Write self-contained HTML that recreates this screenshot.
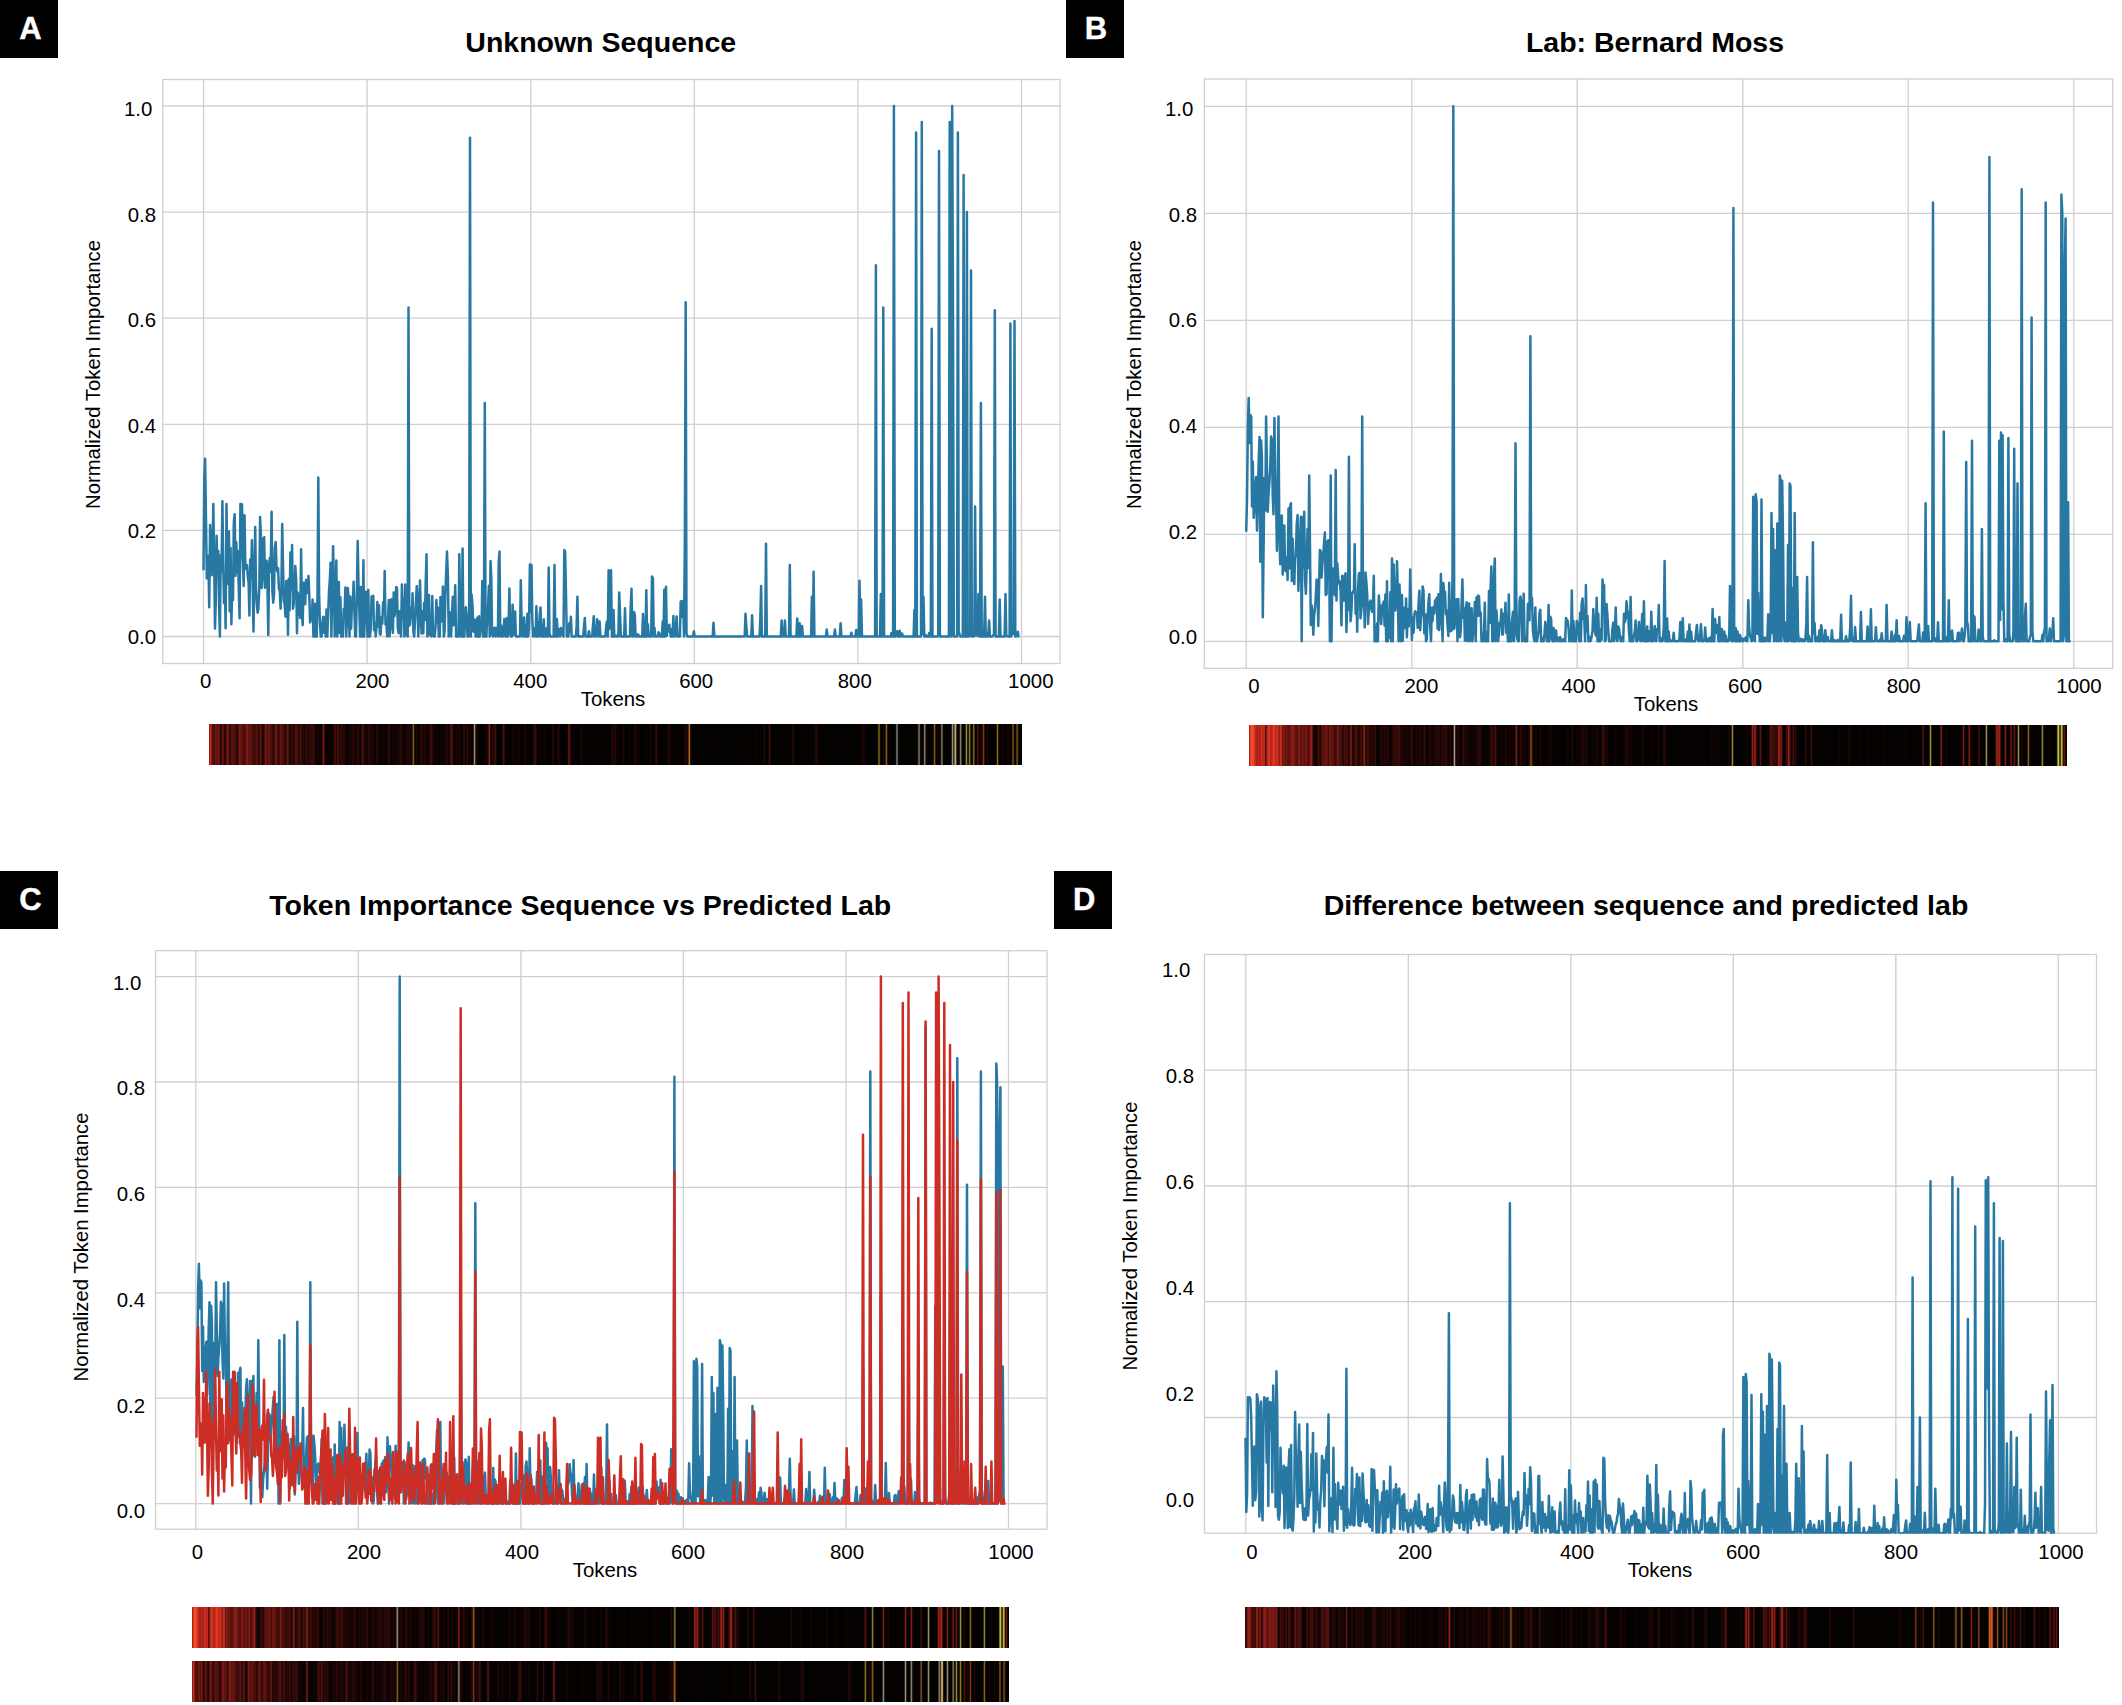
<!DOCTYPE html>
<html><head><meta charset="utf-8"><title>Token importance</title>
<style>
html,body{margin:0;padding:0;background:#fff}
body{width:2122px;height:1705px;position:relative;overflow:hidden;font-family:"Liberation Sans",Arial,Helvetica,sans-serif;color:#000}
svg{position:absolute;left:0;top:0}
svg text{font-family:"Liberation Sans",Arial,Helvetica,sans-serif;fill:#000}
.hm{position:absolute}
.bd{position:absolute;width:58px;height:58px;background:#000;color:#fff;font-weight:bold;font-size:31px;line-height:57px;text-align:center;text-indent:3px;-webkit-text-stroke:.4px #fff}
</style></head><body>
<svg width="2122" height="1705" viewBox="0 0 2122 1705">
<g fill="none" stroke="#cfcfcf" stroke-width="1.3"><path d="M203.5 79.5V663.5"/><path d="M367.1 79.5V663.5"/><path d="M530.7 79.5V663.5"/><path d="M694.3 79.5V663.5"/><path d="M857.9 79.5V663.5"/><path d="M1021.5 79.5V663.5"/><path d="M162.7 636.5H1060.0"/><path d="M162.7 530.4H1060.0"/><path d="M162.7 424.3H1060.0"/><path d="M162.7 318.2H1060.0"/><path d="M162.7 212.1H1060.0"/><path d="M162.7 106.0H1060.0"/><rect x="162.7" y="79.5" width="897.3" height="584.0"/></g>
<polyline fill="none" stroke="#2878a4" stroke-width="2.5" stroke-linejoin="round" points="203.5,570.2 204.3,477.4 205.1,458.8 206.0,519.8 206.8,578.4 207.6,570.2 208.4,555.9 209.2,607.3 210.1,525.1 210.9,539.1 211.7,575.2 212.5,562.2 213.3,503.9 214.2,565.3 215.0,628.5 215.8,600.7 216.6,535.7 217.4,572.8 218.3,551.0 219.1,603.9 219.9,636.5 220.7,555.3 221.5,571.4 222.4,501.2 223.2,562.0 224.0,603.2 224.8,573.0 225.6,628.2 226.5,503.9 227.3,574.1 228.1,583.9 228.9,531.4 229.7,611.3 230.6,547.9 231.4,624.2 232.2,583.8 233.0,600.0 233.8,522.7 234.7,514.2 235.5,575.8 236.3,542.1 237.1,572.3 237.9,551.0 238.8,589.9 239.6,618.3 240.4,503.9 241.2,558.1 242.0,504.2 242.9,562.3 243.7,585.9 244.5,515.3 245.3,564.6 246.1,569.0 247.0,565.0 247.8,576.7 248.6,582.3 249.4,615.6 250.2,559.5 251.1,577.4 251.9,540.2 252.7,586.3 253.5,631.5 254.3,579.2 255.2,527.1 256.0,588.3 256.8,603.4 257.6,612.7 258.4,608.9 259.3,587.4 260.1,517.1 260.9,535.8 261.7,588.1 262.5,577.1 263.4,538.7 264.2,537.2 265.0,587.7 265.8,572.2 266.6,560.8 267.5,588.3 268.3,634.9 269.1,564.3 269.9,557.8 270.7,572.1 271.6,511.8 272.4,590.8 273.2,602.7 274.0,594.6 274.8,548.4 275.7,542.0 276.5,567.5 277.3,571.4 278.1,568.1 278.9,588.6 279.8,590.8 280.6,608.7 281.4,591.0 282.2,523.9 283.0,564.9 283.9,600.6 284.7,604.8 285.5,616.6 286.3,580.9 287.1,580.9 288.0,634.8 288.8,579.0 289.6,610.2 290.4,552.6 291.2,589.9 292.1,545.0 292.9,608.7 293.7,604.2 294.5,587.6 295.3,566.1 296.2,580.8 297.0,633.3 297.8,592.7 298.6,597.8 299.4,611.3 300.3,618.1 301.1,549.3 301.9,611.5 302.7,625.1 303.5,582.8 304.4,597.8 305.2,604.2 306.0,580.0 306.8,588.8 307.6,592.9 308.5,576.1 309.3,596.1 310.1,622.4 310.9,615.3 311.7,620.1 312.6,599.5 313.4,636.5 314.2,636.5 315.0,603.7 315.8,636.5 316.7,636.5 317.5,596.4 318.3,477.4 319.1,593.4 319.9,623.0 320.8,636.5 321.6,636.5 322.4,623.3 323.2,616.7 324.0,632.6 324.9,617.4 325.7,636.5 326.5,609.6 327.3,636.5 328.1,616.0 329.0,591.0 329.8,580.1 330.6,562.8 331.4,636.5 332.2,590.4 333.1,546.3 333.9,584.7 334.7,636.5 335.5,601.1 336.3,560.5 337.2,636.5 338.0,599.7 338.8,582.0 339.6,633.0 340.4,597.2 341.3,636.5 342.1,636.5 342.9,636.5 343.7,608.7 344.5,616.8 345.4,587.6 346.2,636.5 347.0,618.3 347.8,587.9 348.6,599.2 349.5,636.5 350.3,596.6 351.1,628.6 351.9,604.7 352.7,607.2 353.6,581.7 354.4,612.6 355.2,636.5 356.0,636.5 356.8,595.9 357.7,541.0 358.5,584.9 359.3,609.0 360.1,636.5 360.9,586.9 361.8,636.5 362.6,636.5 363.4,560.2 364.2,636.5 365.0,599.9 365.9,591.7 366.7,613.7 367.5,636.5 368.3,590.0 369.1,636.5 370.0,636.5 370.8,628.0 371.6,596.4 372.4,609.8 373.2,595.8 374.1,630.3 374.9,622.9 375.7,636.5 376.5,626.9 377.3,602.0 378.2,626.5 379.0,605.3 379.8,634.0 380.6,634.6 381.4,617.3 382.3,623.7 383.1,602.2 383.9,613.6 384.7,571.0 385.5,624.5 386.4,624.7 387.2,636.5 388.0,618.0 388.8,600.0 389.6,636.5 390.5,620.0 391.3,599.2 392.1,622.2 392.9,632.9 393.7,592.4 394.6,616.2 395.4,608.1 396.2,587.1 397.0,587.8 397.8,628.3 398.7,633.2 399.5,611.3 400.3,622.6 401.1,636.5 401.9,584.6 402.8,618.6 403.6,599.2 404.4,636.5 405.2,584.4 406.0,635.0 406.9,622.1 407.7,636.5 408.5,307.6 409.3,625.5 410.1,624.3 411.0,607.5 411.8,617.7 412.6,593.2 413.4,632.0 414.2,636.5 415.1,620.0 415.9,602.7 416.7,586.2 417.5,597.8 418.3,636.5 419.2,609.5 420.0,580.6 420.8,618.0 421.6,633.5 422.4,611.5 423.3,633.2 424.1,602.7 424.9,620.1 425.7,582.7 426.5,554.3 427.4,636.5 428.2,603.8 429.0,595.0 429.8,635.1 430.6,631.3 431.5,636.5 432.3,596.1 433.1,635.6 433.9,636.5 434.7,636.5 435.6,626.0 436.4,600.0 437.2,622.5 438.0,607.7 438.8,636.5 439.7,636.5 440.5,596.9 441.3,607.3 442.1,621.2 442.9,586.6 443.8,636.5 444.6,631.5 445.4,593.4 446.2,572.1 447.0,551.6 447.9,576.4 448.7,636.4 449.5,611.9 450.3,625.3 451.1,636.5 452.0,614.3 452.8,596.8 453.6,625.3 454.4,623.4 455.2,585.3 456.1,636.5 456.9,636.5 457.7,636.5 458.5,636.5 459.3,554.3 460.2,614.6 461.0,636.5 461.8,636.5 462.6,548.6 463.4,636.5 464.3,636.5 465.1,615.7 465.9,607.2 466.7,618.2 467.5,636.5 468.4,636.5 469.2,608.9 470.0,137.8 470.8,636.5 471.6,594.6 472.5,605.0 473.3,631.4 474.1,632.1 474.9,619.5 475.7,636.5 476.6,636.5 477.4,617.7 478.2,636.5 479.0,616.2 479.8,636.5 480.7,629.2 481.5,630.3 482.3,581.1 483.1,636.5 483.9,636.5 484.8,403.1 485.6,636.5 486.4,636.5 487.2,617.1 488.0,608.3 488.9,585.7 489.7,636.5 490.5,561.0 491.3,578.0 492.1,634.2 493.0,636.5 493.8,631.5 494.6,627.8 495.4,636.5 496.2,628.1 497.1,635.3 497.9,636.5 498.7,563.3 499.5,551.6 500.3,636.5 501.2,625.5 502.0,636.5 502.8,636.5 503.6,629.9 504.4,618.9 505.3,636.5 506.1,636.5 506.9,617.9 507.7,636.5 508.5,630.1 509.4,588.4 510.2,634.1 511.0,636.5 511.8,636.5 512.6,604.7 513.5,634.9 514.3,621.1 515.1,611.6 515.9,636.4 516.7,636.5 517.6,636.5 518.4,636.5 519.2,636.5 520.0,636.5 520.8,580.3 521.7,626.5 522.5,636.5 523.3,633.0 524.1,617.5 524.9,636.5 525.8,636.5 526.6,636.5 527.4,613.8 528.2,636.5 529.0,626.3 529.9,564.4 530.7,612.0 531.5,564.9 532.3,619.6 533.1,636.5 534.0,628.6 534.8,636.0 535.6,636.5 536.4,606.3 537.2,636.5 538.1,622.8 538.9,636.5 539.7,615.2 540.5,607.4 541.3,636.5 542.2,636.5 543.0,636.5 543.8,619.2 544.6,636.5 545.4,636.5 546.3,628.5 547.1,636.5 547.9,636.5 548.7,567.5 549.5,633.6 550.4,636.5 551.2,636.5 552.0,636.5 552.8,636.5 553.6,636.5 554.5,564.9 555.3,636.5 556.1,636.5 556.9,619.0 557.7,636.5 558.6,628.8 559.4,630.0 560.2,636.5 561.0,627.9 561.8,633.5 562.7,634.4 563.5,636.5 564.3,550.0 565.1,551.6 565.9,588.6 566.8,636.5 567.6,629.5 568.4,636.5 569.2,623.4 570.0,632.1 570.9,616.8 571.7,636.5 572.5,636.5 573.3,636.5 574.1,636.5 575.0,636.5 575.8,636.5 576.6,626.7 577.4,596.8 578.2,636.5 579.1,636.5 579.9,636.2 580.7,636.5 581.5,636.5 582.3,636.5 583.2,636.5 584.0,626.4 584.8,617.9 585.6,636.5 586.4,636.5 587.3,636.5 588.1,636.5 588.9,631.3 589.7,636.5 590.5,636.5 591.4,636.5 592.2,636.5 593.0,625.0 593.8,616.2 594.6,636.5 595.5,635.0 596.3,636.5 597.1,619.3 597.9,623.4 598.7,636.5 599.6,621.4 600.4,636.5 601.2,636.5 602.0,636.5 602.8,636.5 603.7,636.5 604.5,636.5 605.3,636.5 606.1,627.7 606.9,621.5 607.8,636.5 608.6,570.2 609.4,629.0 610.2,619.0 611.0,570.2 611.9,636.5 612.7,636.5 613.5,609.9 614.3,636.5 615.1,635.5 616.0,636.5 616.8,636.5 617.6,635.0 618.4,636.5 619.2,592.5 620.1,615.1 620.9,636.5 621.7,636.5 622.5,636.5 623.3,636.5 624.2,636.5 625.0,608.2 625.8,636.5 626.6,636.5 627.4,636.5 628.3,636.5 629.1,636.5 629.9,636.5 630.7,606.4 631.5,588.8 632.4,636.5 633.2,636.5 634.0,611.9 634.8,615.0 635.6,636.5 636.5,636.5 637.3,636.5 638.1,634.3 638.9,636.5 639.7,636.5 640.6,636.5 641.4,636.5 642.2,636.5 643.0,614.1 643.8,636.5 644.7,636.5 645.5,636.5 646.3,590.3 647.1,636.5 647.9,624.2 648.8,636.5 649.6,636.5 650.4,636.5 651.2,636.5 652.0,576.6 652.9,578.1 653.7,636.5 654.5,627.8 655.3,636.5 656.1,636.5 657.0,636.5 657.8,636.5 658.6,632.3 659.4,633.4 660.2,636.5 661.1,636.5 661.9,636.5 662.7,621.3 663.5,636.5 664.3,589.8 665.2,636.5 666.0,586.7 666.8,635.7 667.6,625.6 668.4,631.3 669.3,624.7 670.1,632.5 670.9,636.5 671.7,629.2 672.5,636.5 673.4,616.0 674.2,636.5 675.0,636.5 675.8,631.2 676.6,616.4 677.5,636.5 678.3,636.5 679.1,636.5 679.9,636.5 680.7,601.6 681.6,601.0 682.4,616.8 683.2,601.0 684.0,636.5 684.8,546.3 685.7,302.3 686.5,633.2 687.3,636.5 688.1,636.5 688.9,636.5 689.8,636.5 690.6,636.5 691.4,636.5 692.2,636.5 693.0,636.5 693.9,631.2 694.7,636.5 695.5,636.5 696.3,636.5 697.1,636.5 698.0,636.5 698.8,636.5 699.6,636.5 700.4,636.5 701.2,636.5 702.1,636.5 702.9,636.5 703.7,636.5 704.5,636.5 705.3,636.5 706.2,636.5 707.0,636.5 707.8,636.5 708.6,636.5 709.4,636.5 710.3,636.5 711.1,636.5 711.9,636.5 712.7,636.5 713.5,622.7 714.4,636.5 715.2,636.5 716.0,636.5 716.8,636.5 717.6,636.5 718.5,636.5 719.3,636.5 720.1,636.5 720.9,636.5 721.7,636.5 722.6,636.5 723.4,636.5 724.2,636.5 725.0,636.5 725.8,636.5 726.7,636.5 727.5,636.5 728.3,636.5 729.1,636.5 729.9,636.5 730.8,636.5 731.6,636.5 732.4,636.5 733.2,636.5 734.0,636.5 734.9,636.5 735.7,636.5 736.5,636.5 737.3,636.5 738.1,636.5 739.0,636.5 739.8,636.5 740.6,636.5 741.4,636.5 742.2,636.5 743.1,636.5 743.9,636.5 744.7,636.5 745.5,613.7 746.3,625.9 747.2,636.5 748.0,636.5 748.8,636.5 749.6,636.5 750.4,636.5 751.3,636.5 752.1,615.3 752.9,636.5 753.7,636.5 754.5,636.5 755.4,636.5 756.2,636.5 757.0,636.5 757.8,636.5 758.6,636.5 759.5,636.5 760.3,620.6 761.1,586.1 761.9,636.5 762.7,636.5 763.6,636.5 764.4,636.5 765.2,636.5 766.0,543.7 766.8,636.5 767.7,636.5 768.5,636.5 769.3,636.5 770.1,636.5 770.9,636.5 771.8,636.5 772.6,636.5 773.4,636.5 774.2,636.5 775.0,636.5 775.9,636.5 776.7,636.5 777.5,636.5 778.3,636.5 779.1,636.5 780.0,636.5 780.8,636.5 781.6,620.6 782.4,636.5 783.2,628.5 784.1,636.5 784.9,620.6 785.7,636.5 786.5,636.5 787.3,636.5 788.2,636.5 789.0,636.5 789.8,564.9 790.6,636.5 791.4,636.5 792.3,636.5 793.1,636.5 793.9,636.5 794.7,636.5 795.5,636.5 796.4,636.5 797.2,618.5 798.0,636.5 798.8,636.5 799.6,623.2 800.5,636.5 801.3,636.5 802.1,625.9 802.9,636.5 803.7,636.5 804.6,636.5 805.4,636.5 806.2,636.5 807.0,636.5 807.8,636.5 808.7,636.5 809.5,636.5 810.3,636.5 811.1,636.5 811.9,596.7 812.8,636.5 813.6,571.8 814.4,636.5 815.2,636.5 816.0,636.5 816.9,636.5 817.7,636.5 818.5,636.5 819.3,636.5 820.1,636.5 821.0,636.5 821.8,636.5 822.6,636.5 823.4,636.5 824.2,636.5 825.1,636.5 825.9,636.5 826.7,629.6 827.5,636.5 828.3,636.5 829.2,636.5 830.0,636.5 830.8,636.5 831.6,636.5 832.4,636.5 833.3,636.5 834.1,636.5 834.9,629.6 835.7,636.5 836.5,636.5 837.4,636.5 838.2,636.5 839.0,636.5 839.8,636.5 840.6,623.2 841.5,636.5 842.3,636.5 843.1,636.5 843.9,636.5 844.7,636.5 845.6,636.5 846.4,636.5 847.2,636.5 848.0,636.5 848.8,636.5 849.7,636.5 850.5,636.5 851.3,632.8 852.1,636.5 852.9,636.5 853.8,636.5 854.6,636.5 855.4,636.5 856.2,630.1 857.0,636.5 857.9,636.5 858.7,636.5 859.5,580.8 860.3,636.5 861.1,599.4 862.0,636.5 862.8,636.5 863.6,636.5 864.4,636.5 865.2,636.5 866.1,636.5 866.9,636.5 867.7,636.5 868.5,636.5 869.3,636.5 870.2,636.5 871.0,636.5 871.8,636.5 872.6,636.5 873.4,636.5 874.3,636.5 875.1,636.5 875.9,265.2 876.7,636.5 877.5,636.5 878.4,636.5 879.2,636.5 880.0,636.5 880.8,594.1 881.6,636.5 882.5,636.5 883.3,307.6 884.1,636.5 884.9,636.5 885.7,636.5 886.6,636.5 887.4,636.5 888.2,636.5 889.0,636.5 889.8,636.5 890.7,636.5 891.5,632.9 892.3,636.5 893.1,636.5 893.9,106.0 894.8,636.5 895.6,636.5 896.4,633.3 897.2,631.2 898.0,636.5 898.9,636.5 899.7,630.8 900.5,636.5 901.3,636.5 902.1,633.5 903.0,636.5 903.8,636.5 904.6,636.5 905.4,636.5 906.2,636.5 907.1,636.5 907.9,636.5 908.7,636.5 909.5,636.5 910.3,636.5 911.2,636.5 912.0,636.5 912.8,636.5 913.6,636.5 914.4,610.0 915.3,636.5 916.1,132.5 916.9,636.5 917.7,636.5 918.5,636.5 919.4,636.5 920.2,636.5 921.0,636.5 921.8,121.9 922.6,634.1 923.5,596.7 924.3,636.5 925.1,636.5 925.9,635.3 926.7,636.5 927.6,636.5 928.4,636.5 929.2,632.9 930.0,636.5 930.8,636.5 931.7,328.8 932.5,636.5 933.3,636.5 934.1,636.5 934.9,636.5 935.8,636.5 936.6,636.5 937.4,636.5 938.2,634.9 939.0,151.1 939.9,636.5 940.7,636.5 941.5,636.5 942.3,636.5 943.1,636.5 944.0,636.5 944.8,636.5 945.6,636.5 946.4,636.5 947.2,636.5 948.1,636.5 948.9,636.5 949.7,121.9 950.5,635.9 951.3,636.5 952.2,106.0 953.0,318.2 953.8,636.5 954.6,636.5 955.4,636.5 956.3,636.5 957.1,636.5 957.9,132.5 958.7,630.9 959.5,634.3 960.4,636.5 961.2,636.5 962.0,636.5 962.8,636.5 963.6,175.0 964.5,636.5 965.3,636.5 966.1,636.5 966.9,212.1 967.7,636.5 968.6,636.5 969.4,631.8 970.2,635.9 971.0,270.5 971.8,636.5 972.7,636.5 973.5,636.5 974.3,634.6 975.1,506.5 975.9,635.8 976.8,635.6 977.6,635.5 978.4,594.1 979.2,636.5 980.0,636.5 980.9,403.1 981.7,636.5 982.5,631.3 983.3,636.5 984.1,636.5 985.0,596.7 985.8,636.5 986.6,636.5 987.4,632.7 988.2,636.5 989.1,620.6 989.9,636.5 990.7,636.5 991.5,636.5 992.3,636.5 993.2,635.1 994.0,635.3 994.8,310.2 995.6,636.5 996.4,636.5 997.3,636.5 998.1,636.5 998.9,636.5 999.7,599.4 1000.5,636.5 1001.4,636.5 1002.2,636.5 1003.0,636.5 1003.8,636.5 1004.6,636.5 1005.5,594.1 1006.3,635.6 1007.1,635.9 1007.9,636.5 1008.7,636.5 1009.6,636.5 1010.4,323.5 1011.2,636.5 1012.0,633.5 1012.8,632.4 1013.7,633.8 1014.5,320.9 1015.3,636.5 1016.1,636.5 1016.9,634.4 1017.8,631.8 1018.6,636.5 1019.4,636.5"/>
<text x="156.0" y="643.9" font-size="20.4" text-anchor="end" font-weight="normal">0.0</text>
<text x="156.0" y="538.3" font-size="20.4" text-anchor="end" font-weight="normal">0.2</text>
<text x="156.0" y="432.7" font-size="20.4" text-anchor="end" font-weight="normal">0.4</text>
<text x="156.0" y="327.1" font-size="20.4" text-anchor="end" font-weight="normal">0.6</text>
<text x="156.0" y="221.5" font-size="20.4" text-anchor="end" font-weight="normal">0.8</text>
<text x="152.3" y="115.9" font-size="20.4" text-anchor="end" font-weight="normal">1.0</text>
<text x="205.7" y="688.0" font-size="20.4" text-anchor="middle" font-weight="normal">0</text>
<text x="372.4" y="688.0" font-size="20.4" text-anchor="middle" font-weight="normal">200</text>
<text x="530.3" y="688.0" font-size="20.4" text-anchor="middle" font-weight="normal">400</text>
<text x="696.2" y="688.0" font-size="20.4" text-anchor="middle" font-weight="normal">600</text>
<text x="854.8" y="688.0" font-size="20.4" text-anchor="middle" font-weight="normal">800</text>
<text x="1030.8" y="688.0" font-size="20.4" text-anchor="middle" font-weight="normal">1000</text>
<text x="613.0" y="706.0" font-size="20.4" text-anchor="middle" font-weight="normal">Tokens</text>
<text transform="translate(99.6 374.5) rotate(-90)" font-size="20.3" text-anchor="middle">Normalized Token Importance</text>
<text x="600.7" y="51.8" font-size="28.5" text-anchor="middle" font-weight="bold">Unknown Sequence</text>
<g fill="none" stroke="#cfcfcf" stroke-width="1.3"><path d="M1246.2 79.0V668.3"/><path d="M1411.8 79.0V668.3"/><path d="M1577.2 79.0V668.3"/><path d="M1742.8 79.0V668.3"/><path d="M1908.2 79.0V668.3"/><path d="M2073.8 79.0V668.3"/><path d="M1204.3 641.3H2112.7"/><path d="M1204.3 534.3H2112.7"/><path d="M1204.3 427.3H2112.7"/><path d="M1204.3 320.3H2112.7"/><path d="M1204.3 213.3H2112.7"/><path d="M1204.3 106.3H2112.7"/><rect x="1204.3" y="79.0" width="908.4" height="589.3"/></g>
<polyline fill="none" stroke="#2878a4" stroke-width="2.5" stroke-linejoin="round" points="1246.2,531.6 1247.0,500.4 1247.9,425.4 1248.7,397.9 1249.5,443.0 1250.3,414.9 1251.2,416.6 1252.0,506.6 1252.8,461.6 1253.7,517.8 1254.5,508.1 1255.3,486.1 1256.1,477.1 1257.0,530.6 1257.8,499.4 1258.6,464.3 1259.5,436.9 1260.3,561.7 1261.1,440.5 1261.9,457.5 1262.8,617.2 1263.6,547.5 1264.4,478.0 1265.3,510.4 1266.1,416.6 1266.9,464.7 1267.7,511.8 1268.6,492.9 1269.4,482.3 1270.2,468.0 1271.1,436.5 1271.9,439.8 1272.7,495.3 1273.5,514.2 1274.4,418.0 1275.2,483.7 1276.0,492.7 1276.9,550.7 1277.7,481.7 1278.5,416.6 1279.3,530.0 1280.2,564.1 1281.0,535.3 1281.8,515.4 1282.7,574.6 1283.5,553.8 1284.3,525.4 1285.1,570.2 1286.0,571.3 1286.8,557.5 1287.6,579.9 1288.5,508.6 1289.3,568.4 1290.1,506.9 1290.9,503.3 1291.8,581.0 1292.6,538.7 1293.4,559.0 1294.3,584.1 1295.1,557.6 1295.9,556.2 1296.7,524.4 1297.6,515.1 1298.4,590.7 1299.2,568.2 1300.1,537.4 1300.9,516.8 1301.7,641.3 1302.5,516.9 1303.4,567.8 1304.2,511.8 1305.0,579.1 1305.9,593.8 1306.7,565.4 1307.5,529.0 1308.3,568.1 1309.2,475.4 1310.0,548.7 1310.8,625.1 1311.7,605.3 1312.5,612.3 1313.3,634.7 1314.1,616.2 1315.0,608.2 1315.8,596.7 1316.6,579.5 1317.5,589.1 1318.3,626.0 1319.1,585.5 1319.9,549.9 1320.8,551.4 1321.6,577.6 1322.4,563.2 1323.3,555.6 1324.1,541.9 1324.9,532.5 1325.7,594.9 1326.6,594.0 1327.4,541.9 1328.2,540.2 1329.0,541.6 1329.9,641.3 1330.7,475.4 1331.5,641.3 1332.4,568.3 1333.2,588.6 1334.0,589.2 1334.8,595.2 1335.7,470.1 1336.5,600.5 1337.3,563.2 1338.2,577.4 1339.0,583.5 1339.8,581.1 1340.6,591.5 1341.5,625.3 1342.3,575.8 1343.1,576.4 1344.0,600.4 1344.8,577.1 1345.6,573.2 1346.4,632.1 1347.3,601.8 1348.1,610.1 1348.9,456.7 1349.8,590.5 1350.6,621.2 1351.4,610.8 1352.2,593.5 1353.1,591.2 1353.9,592.3 1354.7,544.2 1355.6,613.7 1356.4,595.1 1357.2,631.7 1358.0,590.1 1358.9,573.9 1359.7,572.9 1360.5,618.3 1361.4,609.9 1362.2,416.6 1363.0,606.0 1363.8,581.4 1364.7,627.3 1365.5,572.4 1366.3,581.2 1367.2,594.6 1368.0,623.9 1368.8,609.6 1369.6,602.8 1370.5,600.6 1371.3,609.0 1372.1,611.8 1373.0,602.7 1373.8,575.7 1374.6,641.3 1375.4,638.4 1376.3,641.3 1377.1,623.3 1377.9,641.3 1378.8,595.6 1379.6,606.1 1380.4,614.2 1381.2,624.1 1382.1,605.2 1382.9,604.9 1383.7,601.6 1384.6,625.8 1385.4,594.6 1386.2,641.3 1387.0,581.3 1387.9,641.3 1388.7,623.6 1389.5,637.7 1390.4,592.3 1391.2,641.3 1392.0,558.4 1392.8,641.3 1393.7,564.5 1394.5,600.9 1395.3,610.6 1396.2,601.5 1397.0,561.3 1397.8,591.3 1398.6,641.3 1399.5,584.6 1400.3,607.0 1401.1,641.3 1402.0,595.1 1402.8,640.8 1403.6,608.8 1404.4,607.7 1405.3,628.3 1406.1,598.4 1406.9,637.3 1407.8,609.3 1408.6,626.6 1409.4,618.3 1410.2,569.5 1411.1,611.8 1411.9,639.9 1412.7,617.4 1413.6,632.7 1414.4,614.3 1415.2,611.2 1416.0,613.1 1416.9,613.2 1417.7,628.0 1418.5,604.9 1419.4,590.8 1420.2,630.2 1421.0,617.1 1421.8,614.4 1422.7,586.5 1423.5,590.7 1424.3,633.3 1425.2,614.6 1426.0,641.3 1426.8,639.2 1427.6,616.2 1428.5,601.8 1429.3,594.3 1430.1,624.2 1431.0,641.3 1431.8,607.7 1432.6,621.3 1433.4,607.3 1434.3,613.6 1435.1,600.6 1435.9,602.1 1436.8,597.7 1437.6,628.8 1438.4,594.3 1439.2,630.1 1440.1,616.2 1440.9,573.9 1441.7,609.9 1442.6,641.3 1443.4,583.0 1444.2,594.8 1445.0,591.6 1445.9,614.2 1446.7,610.8 1447.5,624.7 1448.4,636.0 1449.2,582.7 1450.0,628.3 1450.8,631.1 1451.7,630.3 1452.5,575.0 1453.3,106.3 1454.2,628.9 1455.0,621.2 1455.8,608.0 1456.6,599.3 1457.5,641.3 1458.3,599.0 1459.1,625.9 1460.0,637.2 1460.8,630.2 1461.6,602.2 1462.4,579.4 1463.3,617.8 1464.1,608.2 1464.9,640.8 1465.8,610.0 1466.6,602.3 1467.4,641.3 1468.2,634.0 1469.1,603.5 1469.9,641.3 1470.7,631.1 1471.6,608.3 1472.4,641.3 1473.2,631.9 1474.0,621.5 1474.9,602.1 1475.7,641.3 1476.5,597.3 1477.4,616.1 1478.2,595.5 1479.0,596.5 1479.8,615.7 1480.7,612.4 1481.5,641.3 1482.3,641.3 1483.2,641.3 1484.0,632.2 1484.8,602.8 1485.6,641.3 1486.5,631.8 1487.3,641.3 1488.1,641.3 1489.0,591.1 1489.8,622.7 1490.6,587.8 1491.4,566.4 1492.3,641.3 1493.1,641.3 1493.9,578.6 1494.8,558.4 1495.6,641.3 1496.4,610.2 1497.2,622.9 1498.1,641.2 1498.9,634.0 1499.7,622.7 1500.5,624.8 1501.4,609.6 1502.2,634.6 1503.0,634.5 1503.9,613.5 1504.7,620.0 1505.5,602.7 1506.3,632.8 1507.2,629.5 1508.0,641.3 1508.8,594.4 1509.7,641.3 1510.5,623.3 1511.3,641.3 1512.1,620.6 1513.0,611.7 1513.8,641.3 1514.6,632.9 1515.5,443.3 1516.3,597.7 1517.1,638.2 1517.9,641.3 1518.8,641.3 1519.6,600.2 1520.4,596.5 1521.3,601.4 1522.1,641.3 1522.9,632.4 1523.7,593.8 1524.6,641.3 1525.4,636.6 1526.2,641.3 1527.1,641.3 1527.9,603.7 1528.7,616.2 1529.5,620.2 1530.4,336.3 1531.2,608.2 1532.0,597.8 1532.9,630.3 1533.7,637.5 1534.5,641.3 1535.3,607.4 1536.2,641.3 1537.0,641.3 1537.8,636.4 1538.7,630.3 1539.5,613.3 1540.3,609.8 1541.1,641.3 1542.0,641.3 1542.8,638.1 1543.6,641.3 1544.5,633.7 1545.3,621.8 1546.1,630.7 1546.9,641.3 1547.8,641.3 1548.6,605.1 1549.4,641.3 1550.3,616.7 1551.1,619.0 1551.9,638.8 1552.7,641.3 1553.6,628.0 1554.4,641.3 1555.2,636.1 1556.1,630.4 1556.9,641.3 1557.7,637.4 1558.5,639.2 1559.4,641.3 1560.2,636.9 1561.0,641.3 1561.9,641.3 1562.7,640.2 1563.5,639.1 1564.3,641.3 1565.2,641.3 1566.0,618.0 1566.8,620.0 1567.7,620.7 1568.5,627.4 1569.3,641.3 1570.1,631.6 1571.0,641.3 1571.8,590.5 1572.6,641.3 1573.5,621.1 1574.3,641.3 1575.1,641.3 1575.9,641.3 1576.8,620.9 1577.6,624.0 1578.4,629.2 1579.3,641.3 1580.1,612.8 1580.9,641.3 1581.7,603.4 1582.6,598.6 1583.4,619.1 1584.2,616.0 1585.1,641.3 1585.9,585.1 1586.7,631.3 1587.5,616.1 1588.4,641.3 1589.2,637.0 1590.0,641.3 1590.9,640.6 1591.7,635.7 1592.5,631.1 1593.3,609.1 1594.2,626.9 1595.0,631.5 1595.8,635.5 1596.7,597.7 1597.5,641.3 1598.3,613.7 1599.1,641.3 1600.0,641.3 1600.8,628.8 1601.6,639.8 1602.5,579.4 1603.3,587.7 1604.1,585.1 1604.9,641.3 1605.8,639.8 1606.6,604.1 1607.4,615.7 1608.3,631.1 1609.1,641.3 1609.9,641.3 1610.7,641.3 1611.6,641.3 1612.4,629.5 1613.2,622.8 1614.1,641.3 1614.9,635.7 1615.7,607.4 1616.5,634.8 1617.4,641.3 1618.2,626.5 1619.0,628.2 1619.9,636.6 1620.7,641.3 1621.5,641.3 1622.3,636.6 1623.2,641.3 1624.0,613.8 1624.8,622.0 1625.7,618.5 1626.5,601.3 1627.3,609.7 1628.1,612.7 1629.0,632.0 1629.8,641.3 1630.6,596.9 1631.5,641.3 1632.3,641.3 1633.1,641.3 1633.9,635.3 1634.8,631.6 1635.6,620.6 1636.4,641.3 1637.3,641.3 1638.1,633.7 1638.9,622.0 1639.7,639.0 1640.6,641.3 1641.4,629.7 1642.2,614.1 1643.1,641.1 1643.9,601.2 1644.7,641.3 1645.5,641.3 1646.4,641.3 1647.2,626.5 1648.0,641.3 1648.9,631.3 1649.7,637.0 1650.5,641.3 1651.3,611.8 1652.2,641.3 1653.0,641.3 1653.8,635.6 1654.7,626.1 1655.5,640.9 1656.3,641.3 1657.1,628.9 1658.0,630.5 1658.8,605.0 1659.6,641.3 1660.5,637.6 1661.3,641.3 1662.1,641.3 1662.9,640.1 1663.8,626.7 1664.6,561.0 1665.4,641.3 1666.2,641.3 1667.1,618.4 1667.9,641.3 1668.7,631.6 1669.6,641.3 1670.4,640.3 1671.2,641.3 1672.0,641.3 1672.9,640.4 1673.7,632.8 1674.5,641.3 1675.4,641.3 1676.2,641.3 1677.0,641.3 1677.8,641.3 1678.7,641.3 1679.5,637.7 1680.3,622.0 1681.2,641.3 1682.0,641.3 1682.8,618.2 1683.6,640.0 1684.5,641.3 1685.3,641.3 1686.1,639.2 1687.0,641.3 1687.8,631.7 1688.6,641.3 1689.4,624.4 1690.3,641.3 1691.1,631.7 1691.9,641.3 1692.8,641.3 1693.6,641.3 1694.4,641.3 1695.2,641.3 1696.1,631.9 1696.9,624.9 1697.7,639.2 1698.6,641.3 1699.4,641.3 1700.2,633.0 1701.0,624.2 1701.9,641.3 1702.7,641.3 1703.5,641.3 1704.4,639.4 1705.2,627.4 1706.0,641.3 1706.8,638.7 1707.7,641.3 1708.5,641.3 1709.3,637.9 1710.2,641.3 1711.0,637.1 1711.8,641.3 1712.6,609.1 1713.5,641.3 1714.3,641.3 1715.1,619.0 1716.0,632.8 1716.8,630.0 1717.6,624.9 1718.4,641.3 1719.3,617.0 1720.1,641.3 1720.9,638.8 1721.8,628.9 1722.6,641.3 1723.4,638.4 1724.2,631.5 1725.1,641.3 1725.9,635.8 1726.7,641.3 1727.6,641.3 1728.4,641.3 1729.2,637.8 1730.0,586.0 1730.9,639.5 1731.7,641.3 1732.5,641.3 1733.4,207.9 1734.2,632.8 1735.0,641.3 1735.8,628.3 1736.7,641.3 1737.5,631.4 1738.3,641.3 1739.2,641.3 1740.0,634.9 1740.8,641.3 1741.6,638.1 1742.5,638.9 1743.3,641.3 1744.1,638.7 1745.0,640.0 1745.8,637.3 1746.6,641.3 1747.4,641.3 1748.3,600.3 1749.1,627.1 1749.9,634.9 1750.8,638.2 1751.6,641.3 1752.4,640.7 1753.2,496.8 1754.1,507.5 1754.9,641.3 1755.7,494.2 1756.6,502.2 1757.4,633.7 1758.2,593.1 1759.0,628.9 1759.9,641.3 1760.7,641.3 1761.5,499.5 1762.4,641.3 1763.2,641.3 1764.0,641.3 1764.8,637.6 1765.7,641.3 1766.5,641.3 1767.3,639.1 1768.2,614.2 1769.0,641.3 1769.8,641.3 1770.6,631.4 1771.5,512.9 1772.3,633.1 1773.1,528.9 1774.0,641.3 1774.8,550.3 1775.6,619.7 1776.4,641.3 1777.3,523.6 1778.1,638.7 1778.9,641.3 1779.8,475.4 1780.6,480.8 1781.4,641.3 1782.2,480.8 1783.1,545.0 1783.9,635.7 1784.7,641.3 1785.6,622.6 1786.4,641.1 1787.2,641.3 1788.0,545.0 1788.9,641.0 1789.7,483.5 1790.5,486.1 1791.4,641.3 1792.2,587.8 1793.0,641.3 1793.8,641.3 1794.7,512.9 1795.5,641.3 1796.3,641.3 1797.2,577.1 1798.0,632.3 1798.8,641.3 1799.6,641.3 1800.5,638.7 1801.3,639.8 1802.1,641.1 1803.0,639.4 1803.8,641.3 1804.6,641.3 1805.4,639.6 1806.3,623.7 1807.1,577.1 1807.9,641.3 1808.8,635.7 1809.6,641.3 1810.4,639.0 1811.2,641.3 1812.1,641.3 1812.9,542.3 1813.7,633.5 1814.6,623.1 1815.4,641.3 1816.2,641.3 1817.0,641.3 1817.9,636.6 1818.7,641.3 1819.5,630.2 1820.4,641.3 1821.2,625.3 1822.0,630.8 1822.8,641.3 1823.7,636.3 1824.5,641.3 1825.3,630.2 1826.2,641.3 1827.0,640.2 1827.8,636.9 1828.6,641.3 1829.5,641.3 1830.3,641.3 1831.1,641.3 1831.9,630.3 1832.8,641.3 1833.6,641.3 1834.4,640.1 1835.3,641.3 1836.1,641.3 1836.9,641.3 1837.7,639.8 1838.6,641.3 1839.4,641.3 1840.2,641.3 1841.1,614.7 1841.9,641.3 1842.7,641.3 1843.5,641.3 1844.4,641.3 1845.2,641.3 1846.0,636.2 1846.9,641.3 1847.7,640.2 1848.5,641.3 1849.3,641.3 1850.2,627.9 1851.0,595.8 1851.8,640.6 1852.7,641.3 1853.5,637.7 1854.3,641.3 1855.1,627.0 1856.0,641.3 1856.8,641.3 1857.6,641.3 1858.5,641.3 1859.3,641.3 1860.1,641.3 1860.9,611.9 1861.8,641.3 1862.6,641.3 1863.4,641.3 1864.3,641.3 1865.1,641.3 1865.9,641.3 1866.7,641.3 1867.6,626.6 1868.4,641.3 1869.2,641.3 1870.1,641.3 1870.9,609.2 1871.7,641.3 1872.5,641.3 1873.4,641.3 1874.2,641.3 1875.0,641.2 1875.9,627.2 1876.7,640.7 1877.5,641.3 1878.3,641.3 1879.2,641.3 1880.0,639.5 1880.8,641.3 1881.7,633.3 1882.5,641.3 1883.3,640.8 1884.1,641.3 1885.0,641.3 1885.8,641.3 1886.6,604.9 1887.5,641.0 1888.3,641.3 1889.1,641.3 1889.9,641.3 1890.8,641.3 1891.6,631.6 1892.4,641.3 1893.3,641.3 1894.1,641.3 1894.9,634.8 1895.7,641.3 1896.6,620.2 1897.4,640.6 1898.2,641.3 1899.1,636.1 1899.9,641.3 1900.7,641.3 1901.5,641.3 1902.4,641.3 1903.2,641.3 1904.0,635.7 1904.9,639.9 1905.7,641.3 1906.5,617.2 1907.3,641.3 1908.2,641.2 1909.0,634.5 1909.8,622.0 1910.7,641.3 1911.5,641.3 1912.3,641.3 1913.1,641.3 1914.0,641.3 1914.8,641.3 1915.6,641.3 1916.5,641.3 1917.3,640.9 1918.1,632.1 1918.9,624.5 1919.8,641.3 1920.6,641.3 1921.4,641.3 1922.3,641.3 1923.1,632.6 1923.9,641.3 1924.7,641.3 1925.6,503.3 1926.4,641.3 1927.2,641.3 1928.1,626.1 1928.9,641.3 1929.7,641.3 1930.5,641.3 1931.4,641.3 1932.2,641.3 1933.0,202.6 1933.9,640.6 1934.7,638.0 1935.5,641.3 1936.3,639.4 1937.2,641.3 1938.0,622.3 1938.8,641.3 1939.7,641.3 1940.5,641.3 1941.3,641.3 1942.1,641.3 1943.0,641.3 1943.8,431.6 1944.6,641.3 1945.5,636.7 1946.3,641.3 1947.1,637.6 1947.9,641.3 1948.8,600.2 1949.6,641.3 1950.4,641.3 1951.3,634.0 1952.1,630.5 1952.9,641.3 1953.7,641.3 1954.6,641.3 1955.4,641.3 1956.2,641.3 1957.1,641.3 1957.9,633.3 1958.7,632.6 1959.5,641.3 1960.4,639.6 1961.2,635.2 1962.0,628.5 1962.9,641.3 1963.7,641.3 1964.5,637.0 1965.3,627.2 1966.2,462.1 1967.0,621.7 1967.8,624.6 1968.7,641.3 1969.5,641.3 1970.3,641.3 1971.1,641.3 1972.0,440.7 1972.8,641.3 1973.6,615.7 1974.5,616.9 1975.3,641.3 1976.1,641.3 1976.9,641.3 1977.8,641.3 1978.6,629.6 1979.4,637.7 1980.3,641.3 1981.1,641.3 1981.9,528.9 1982.7,636.1 1983.6,641.3 1984.4,641.3 1985.2,641.3 1986.1,641.3 1986.9,641.3 1987.7,641.3 1988.5,641.3 1989.4,157.1 1990.2,641.3 1991.0,640.7 1991.8,641.3 1992.7,641.3 1993.5,641.3 1994.3,640.2 1995.2,641.3 1996.0,641.3 1996.8,641.3 1997.6,641.3 1998.5,641.3 1999.3,440.7 2000.1,619.9 2001.0,432.6 2001.8,609.2 2002.6,435.3 2003.4,598.5 2004.3,641.3 2005.1,641.3 2005.9,639.2 2006.8,641.3 2007.6,641.3 2008.4,438.0 2009.2,634.3 2010.1,641.3 2010.9,641.3 2011.7,641.3 2012.6,641.3 2013.4,631.7 2014.2,448.7 2015.0,636.4 2015.9,641.3 2016.7,641.3 2017.5,483.5 2018.4,641.3 2019.2,641.3 2020.0,641.3 2020.8,641.3 2021.7,189.2 2022.5,640.0 2023.3,641.3 2024.2,641.3 2025.0,616.0 2025.8,603.8 2026.6,641.3 2027.5,641.0 2028.3,641.3 2029.1,641.3 2030.0,636.4 2030.8,635.1 2031.6,317.6 2032.4,630.9 2033.3,641.3 2034.1,641.3 2034.9,641.3 2035.8,641.3 2036.6,640.9 2037.4,641.3 2038.2,641.3 2039.1,641.3 2039.9,641.3 2040.7,641.3 2041.6,641.3 2042.4,635.1 2043.2,641.3 2044.0,632.1 2044.9,628.5 2045.7,202.6 2046.5,641.3 2047.4,641.3 2048.2,641.3 2049.0,637.0 2049.8,628.4 2050.7,641.3 2051.5,636.3 2052.3,634.6 2053.2,618.2 2054.0,641.3 2054.8,641.3 2055.6,641.3 2056.5,641.3 2057.3,641.3 2058.1,641.3 2059.0,641.3 2059.8,641.3 2060.6,641.3 2061.4,194.6 2062.3,213.3 2063.1,641.3 2063.9,634.9 2064.8,266.8 2065.6,218.6 2066.4,641.3 2067.2,641.3 2068.1,502.2 2068.9,641.3 2069.7,641.3 2070.6,641.3"/>
<text x="1197.0" y="644.4" font-size="20.4" text-anchor="end" font-weight="normal">0.0</text>
<text x="1197.0" y="538.7" font-size="20.4" text-anchor="end" font-weight="normal">0.2</text>
<text x="1197.0" y="433.0" font-size="20.4" text-anchor="end" font-weight="normal">0.4</text>
<text x="1197.0" y="327.3" font-size="20.4" text-anchor="end" font-weight="normal">0.6</text>
<text x="1197.0" y="221.6" font-size="20.4" text-anchor="end" font-weight="normal">0.8</text>
<text x="1193.3" y="115.9" font-size="20.4" text-anchor="end" font-weight="normal">1.0</text>
<text x="1254.0" y="692.5" font-size="20.4" text-anchor="middle" font-weight="normal">0</text>
<text x="1421.4" y="692.5" font-size="20.4" text-anchor="middle" font-weight="normal">200</text>
<text x="1578.5" y="692.5" font-size="20.4" text-anchor="middle" font-weight="normal">400</text>
<text x="1745.1" y="692.5" font-size="20.4" text-anchor="middle" font-weight="normal">600</text>
<text x="1903.7" y="692.5" font-size="20.4" text-anchor="middle" font-weight="normal">800</text>
<text x="2079.0" y="692.5" font-size="20.4" text-anchor="middle" font-weight="normal">1000</text>
<text x="1666.0" y="711.0" font-size="20.4" text-anchor="middle" font-weight="normal">Tokens</text>
<text transform="translate(1141.0 374.5) rotate(-90)" font-size="20.3" text-anchor="middle">Normalized Token Importance</text>
<text x="1655.0" y="51.8" font-size="28.5" text-anchor="middle" font-weight="bold">Lab: Bernard Moss</text>
<g fill="none" stroke="#cfcfcf" stroke-width="1.3"><path d="M195.8 950.7V1529.2"/><path d="M358.3 950.7V1529.2"/><path d="M520.9 950.7V1529.2"/><path d="M683.4 950.7V1529.2"/><path d="M846.0 950.7V1529.2"/><path d="M1008.5 950.7V1529.2"/><path d="M155.5 1503.6H1047.0"/><path d="M155.5 1398.2H1047.0"/><path d="M155.5 1292.8H1047.0"/><path d="M155.5 1187.4H1047.0"/><path d="M155.5 1082.0H1047.0"/><path d="M155.5 976.6H1047.0"/><rect x="155.5" y="950.7" width="891.5" height="578.5"/></g>
<polyline fill="none" stroke="#2878a4" stroke-width="2.5" stroke-linejoin="round" points="196.5,1395.6 197.3,1364.8 198.1,1291.0 198.9,1263.8 199.8,1308.3 200.6,1280.6 201.4,1282.3 202.2,1370.9 203.0,1326.6 203.8,1382.0 204.6,1372.4 205.4,1350.7 206.3,1341.8 207.1,1394.5 207.9,1363.8 208.7,1329.3 209.5,1302.3 210.3,1425.2 211.1,1305.8 211.9,1322.5 212.8,1479.9 213.6,1411.2 214.4,1342.8 215.2,1374.6 216.0,1282.3 216.8,1329.7 217.6,1376.0 218.4,1357.4 219.3,1347.0 220.1,1332.8 220.9,1301.8 221.7,1305.1 222.5,1359.8 223.3,1378.4 224.1,1283.6 224.9,1348.3 225.8,1357.2 226.6,1414.4 227.4,1346.4 228.2,1282.3 229.0,1393.9 229.8,1427.6 230.6,1399.2 231.5,1379.6 232.3,1437.9 233.1,1417.4 233.9,1389.4 234.7,1433.6 235.5,1434.7 236.3,1421.1 237.1,1443.1 238.0,1372.9 238.8,1431.8 239.6,1371.3 240.4,1367.7 241.2,1444.2 242.0,1402.6 242.8,1422.6 243.6,1447.3 244.5,1421.2 245.3,1419.7 246.1,1388.4 246.9,1379.3 247.7,1453.8 248.5,1431.6 249.3,1401.2 250.1,1381.0 251.0,1503.6 251.8,1381.0 252.6,1431.2 253.4,1376.0 254.2,1442.3 255.0,1456.8 255.8,1428.9 256.6,1393.0 257.5,1431.5 258.3,1340.2 259.1,1412.3 259.9,1487.7 260.7,1468.2 261.5,1475.0 262.3,1497.1 263.1,1478.9 264.0,1471.0 264.8,1459.7 265.6,1442.7 266.4,1452.2 267.2,1488.6 268.0,1448.6 268.8,1413.5 269.7,1415.1 270.5,1440.8 271.3,1426.7 272.1,1419.1 272.9,1405.7 273.7,1396.4 274.5,1457.9 275.3,1457.0 276.2,1405.7 277.0,1404.0 277.8,1405.4 278.6,1503.6 279.4,1340.2 280.2,1503.6 281.0,1431.7 281.8,1451.7 282.7,1452.3 283.5,1458.1 284.3,1335.0 285.1,1463.4 285.9,1426.7 286.7,1440.7 287.5,1446.7 288.3,1444.3 289.2,1454.5 290.0,1487.9 290.8,1439.0 291.6,1439.7 292.4,1463.3 293.2,1440.4 294.0,1436.5 294.8,1494.5 295.7,1464.7 296.5,1472.9 297.3,1321.8 298.1,1453.6 298.9,1483.8 299.7,1473.6 300.5,1456.5 301.4,1454.2 302.2,1455.3 303.0,1408.0 303.8,1476.5 304.6,1458.1 305.4,1494.1 306.2,1453.1 307.0,1437.3 307.9,1436.3 308.7,1481.0 309.5,1472.7 310.3,1282.3 311.1,1468.8 311.9,1444.6 312.7,1489.8 313.5,1435.7 314.4,1444.4 315.2,1457.6 316.0,1486.5 316.8,1472.3 317.6,1465.7 318.4,1463.5 319.2,1471.8 320.0,1474.5 320.9,1465.6 321.7,1439.0 322.5,1503.6 323.3,1500.8 324.1,1503.6 324.9,1485.9 325.7,1503.6 326.5,1458.6 327.4,1468.9 328.2,1476.9 329.0,1486.6 329.8,1468.1 330.6,1467.7 331.4,1464.5 332.2,1488.4 333.1,1457.6 333.9,1503.6 334.7,1444.5 335.5,1503.6 336.3,1486.2 337.1,1500.0 337.9,1455.4 338.7,1503.6 339.6,1421.9 340.4,1503.6 341.2,1428.0 342.0,1463.8 342.8,1473.4 343.6,1464.4 344.4,1424.8 345.2,1454.3 346.1,1503.6 346.9,1447.8 347.7,1469.8 348.5,1503.6 349.3,1458.1 350.1,1503.1 350.9,1471.5 351.7,1470.5 352.6,1490.8 353.4,1461.4 354.2,1499.6 355.0,1472.1 355.8,1489.1 356.6,1481.0 357.4,1432.9 358.2,1474.5 359.1,1502.2 359.9,1480.0 360.7,1495.1 361.5,1477.0 362.3,1473.9 363.1,1475.8 363.9,1476.0 364.7,1490.5 365.6,1467.7 366.4,1453.8 367.2,1492.6 368.0,1479.8 368.8,1477.1 369.6,1449.6 370.4,1453.7 371.3,1495.7 372.1,1477.3 372.9,1503.6 373.7,1501.6 374.5,1478.9 375.3,1464.7 376.1,1457.3 376.9,1486.8 377.8,1503.6 378.6,1470.5 379.4,1483.9 380.2,1470.1 381.0,1476.4 381.8,1463.5 382.6,1465.0 383.4,1460.7 384.3,1491.3 385.1,1457.3 385.9,1492.5 386.7,1478.8 387.5,1437.3 388.3,1472.7 389.1,1503.6 389.9,1446.2 390.8,1457.8 391.6,1454.6 392.4,1476.9 393.2,1473.5 394.0,1487.3 394.8,1498.4 395.6,1445.8 396.4,1490.8 397.3,1493.6 398.1,1492.8 398.9,1438.3 399.7,976.6 400.5,1491.3 401.3,1483.8 402.1,1470.8 403.0,1462.2 403.8,1503.6 404.6,1461.9 405.4,1488.4 406.2,1499.5 407.0,1492.7 407.8,1465.1 408.6,1442.6 409.5,1480.4 410.3,1471.0 411.1,1503.1 411.9,1472.8 412.7,1465.2 413.5,1503.6 414.3,1496.5 415.1,1466.3 416.0,1503.6 416.8,1493.5 417.6,1471.1 418.4,1503.6 419.2,1494.4 420.0,1484.1 420.8,1465.0 421.6,1503.6 422.5,1460.2 423.3,1478.8 424.1,1458.5 424.9,1459.4 425.7,1478.4 426.5,1475.2 427.3,1503.6 428.1,1503.6 429.0,1503.6 429.8,1494.6 430.6,1465.7 431.4,1503.6 432.2,1494.3 433.0,1503.6 433.8,1503.6 434.7,1454.1 435.5,1485.3 436.3,1450.9 437.1,1429.8 437.9,1503.6 438.7,1503.6 439.5,1441.8 440.3,1421.9 441.2,1503.6 442.0,1473.0 442.8,1485.5 443.6,1503.5 444.4,1496.4 445.2,1485.3 446.0,1487.3 446.8,1472.4 447.7,1497.0 448.5,1496.9 449.3,1476.2 450.1,1482.6 450.9,1465.6 451.7,1495.2 452.5,1492.0 453.3,1503.6 454.2,1457.4 455.0,1503.6 455.8,1485.9 456.6,1503.6 457.4,1483.2 458.2,1474.4 459.0,1503.6 459.8,1495.3 460.7,1308.6 461.5,1460.6 462.3,1500.6 463.1,1503.6 463.9,1503.6 464.7,1463.1 465.5,1459.5 466.3,1464.2 467.2,1503.6 468.0,1494.9 468.8,1456.8 469.6,1503.6 470.4,1499.0 471.2,1503.6 472.0,1503.6 472.9,1466.6 473.7,1478.9 474.5,1482.8 475.3,1203.2 476.1,1471.0 476.9,1460.8 477.7,1492.8 478.5,1499.9 479.4,1503.6 480.2,1470.3 481.0,1503.6 481.8,1503.6 482.6,1498.8 483.4,1492.7 484.2,1476.0 485.0,1472.6 485.9,1503.6 486.7,1503.6 487.5,1500.5 488.3,1503.6 489.1,1496.1 489.9,1484.4 490.7,1493.1 491.5,1503.6 492.4,1503.6 493.2,1467.9 494.0,1503.6 494.8,1479.4 495.6,1481.6 496.4,1501.2 497.2,1503.6 498.0,1490.5 498.9,1503.6 499.7,1498.5 500.5,1492.9 501.3,1503.6 502.1,1499.8 502.9,1501.5 503.7,1503.6 504.6,1499.3 505.4,1503.6 506.2,1503.6 507.0,1502.5 507.8,1501.5 508.6,1503.6 509.4,1503.6 510.2,1480.6 511.1,1482.6 511.9,1483.3 512.7,1489.9 513.5,1503.6 514.3,1494.1 515.1,1503.6 515.9,1453.6 516.7,1503.6 517.6,1483.7 518.4,1503.6 519.2,1503.6 520.0,1503.6 520.8,1483.5 521.6,1486.6 522.4,1491.7 523.2,1503.6 524.1,1475.5 524.9,1503.6 525.7,1466.3 526.5,1461.5 527.3,1481.7 528.1,1478.7 528.9,1503.6 529.7,1448.2 530.6,1493.8 531.4,1478.8 532.2,1503.6 533.0,1499.4 533.8,1503.6 534.6,1502.9 535.4,1498.1 536.3,1493.5 537.1,1471.9 537.9,1489.4 538.7,1494.0 539.5,1497.9 540.3,1460.6 541.1,1503.6 541.9,1476.4 542.8,1503.6 543.6,1503.6 544.4,1491.3 545.2,1502.1 546.0,1442.7 546.8,1450.8 547.6,1448.3 548.4,1503.6 549.3,1502.1 550.1,1467.0 550.9,1478.4 551.7,1493.5 552.5,1503.6 553.3,1503.6 554.1,1503.6 554.9,1503.6 555.8,1492.0 556.6,1485.4 557.4,1503.6 558.2,1498.1 559.0,1470.2 559.8,1497.2 560.6,1503.6 561.4,1489.1 562.3,1490.7 563.1,1498.9 563.9,1503.6 564.7,1503.6 565.5,1499.0 566.3,1503.6 567.1,1476.5 567.9,1484.6 568.8,1481.1 569.6,1464.2 570.4,1472.4 571.2,1475.4 572.0,1494.4 572.8,1503.6 573.6,1459.9 574.5,1503.6 575.3,1503.6 576.1,1503.6 576.9,1497.6 577.7,1494.1 578.5,1483.3 579.3,1503.6 580.1,1503.6 581.0,1496.2 581.8,1484.6 582.6,1501.4 583.4,1503.6 584.2,1492.1 585.0,1476.9 585.8,1503.4 586.6,1464.1 587.5,1503.6 588.3,1503.6 589.1,1503.6 589.9,1489.1 590.7,1503.6 591.5,1493.8 592.3,1499.3 593.1,1503.6 594.0,1474.6 594.8,1503.6 595.6,1503.6 596.4,1498.0 597.2,1488.6 598.0,1503.2 598.8,1503.6 599.6,1491.4 600.5,1493.0 601.3,1467.8 602.1,1503.6 602.9,1499.9 603.7,1503.6 604.5,1503.6 605.3,1502.4 606.2,1489.2 607.0,1424.5 607.8,1503.6 608.6,1503.6 609.4,1481.1 610.2,1503.6 611.0,1494.1 611.8,1503.6 612.7,1502.6 613.5,1503.6 614.3,1503.6 615.1,1502.7 615.9,1495.2 616.7,1503.6 617.5,1503.6 618.3,1503.6 619.2,1503.6 620.0,1503.6 620.8,1503.6 621.6,1500.1 622.4,1484.6 623.2,1503.6 624.0,1503.6 624.8,1480.8 625.7,1502.3 626.5,1503.6 627.3,1503.6 628.1,1501.5 628.9,1503.6 629.7,1494.1 630.5,1503.6 631.3,1487.0 632.2,1503.6 633.0,1494.1 633.8,1503.6 634.6,1503.6 635.4,1503.6 636.2,1503.6 637.0,1503.6 637.9,1494.3 638.7,1487.4 639.5,1501.5 640.3,1503.6 641.1,1503.6 641.9,1495.4 642.7,1486.8 643.5,1503.6 644.4,1503.6 645.2,1503.6 646.0,1501.7 646.8,1489.9 647.6,1503.6 648.4,1501.0 649.2,1503.6 650.0,1503.6 650.9,1500.2 651.7,1503.6 652.5,1499.4 653.3,1503.6 654.1,1471.8 654.9,1503.6 655.7,1503.6 656.5,1481.6 657.4,1495.2 658.2,1492.5 659.0,1487.4 659.8,1503.6 660.6,1479.7 661.4,1503.6 662.2,1501.1 663.0,1491.4 663.9,1503.6 664.7,1500.7 665.5,1494.0 666.3,1503.6 667.1,1498.1 667.9,1503.6 668.7,1503.6 669.5,1503.6 670.4,1500.2 671.2,1449.2 672.0,1501.9 672.8,1503.6 673.6,1503.6 674.4,1076.7 675.2,1495.2 676.1,1503.6 676.9,1490.8 677.7,1503.6 678.5,1493.8 679.3,1503.6 680.1,1503.6 680.9,1497.3 681.7,1503.6 682.6,1500.4 683.4,1501.2 684.2,1503.6 685.0,1501.0 685.8,1502.3 686.6,1499.7 687.4,1503.6 688.2,1503.6 689.1,1463.2 689.9,1489.6 690.7,1497.3 691.5,1500.5 692.3,1503.6 693.1,1503.0 693.9,1361.3 694.7,1371.8 695.6,1503.6 696.4,1358.7 697.2,1366.6 698.0,1496.2 698.8,1456.2 699.6,1491.4 700.4,1503.6 701.2,1503.6 702.1,1363.9 702.9,1503.6 703.7,1503.6 704.5,1503.6 705.3,1499.9 706.1,1503.6 706.9,1503.6 707.8,1501.4 708.6,1476.9 709.4,1503.6 710.2,1503.6 711.0,1493.9 711.8,1377.1 712.6,1495.6 713.4,1392.9 714.3,1503.6 715.1,1414.0 715.9,1482.3 716.7,1503.6 717.5,1387.7 718.3,1501.1 719.1,1503.6 719.9,1340.2 720.8,1345.5 721.6,1503.6 722.4,1345.5 723.2,1408.7 724.0,1498.1 724.8,1503.6 725.6,1485.1 726.4,1503.4 727.3,1503.6 728.1,1408.7 728.9,1503.3 729.7,1348.1 730.5,1350.8 731.3,1503.6 732.1,1450.9 732.9,1503.6 733.8,1503.6 734.6,1377.1 735.4,1503.6 736.2,1503.6 737.0,1440.4 737.8,1494.8 738.6,1503.6 739.5,1503.6 740.3,1501.0 741.1,1502.1 741.9,1503.4 742.7,1501.8 743.5,1503.6 744.3,1503.6 745.1,1501.9 746.0,1486.3 746.8,1440.4 747.6,1503.6 748.4,1498.1 749.2,1503.6 750.0,1501.3 750.8,1503.6 751.6,1503.6 752.5,1406.1 753.3,1495.9 754.1,1485.7 754.9,1503.6 755.7,1503.6 756.5,1503.6 757.3,1499.0 758.1,1503.6 759.0,1492.6 759.8,1503.6 760.6,1487.8 761.4,1493.3 762.2,1503.6 763.0,1498.7 763.8,1503.6 764.6,1492.7 765.5,1503.6 766.3,1502.6 767.1,1499.3 767.9,1503.6 768.7,1503.6 769.5,1503.6 770.3,1503.6 771.1,1492.8 772.0,1503.6 772.8,1503.6 773.6,1502.4 774.4,1503.6 775.2,1503.6 776.0,1503.6 776.8,1502.2 777.7,1503.6 778.5,1503.6 779.3,1503.6 780.1,1477.4 780.9,1503.6 781.7,1503.6 782.5,1503.6 783.3,1503.6 784.2,1503.6 785.0,1498.6 785.8,1503.6 786.6,1502.5 787.4,1503.6 788.2,1503.6 789.0,1490.4 789.8,1458.8 790.7,1502.9 791.5,1503.6 792.3,1500.0 793.1,1503.6 793.9,1489.5 794.7,1503.6 795.5,1503.6 796.3,1503.6 797.2,1503.6 798.0,1503.6 798.8,1503.6 799.6,1474.6 800.4,1503.6 801.2,1503.6 802.0,1503.6 802.8,1503.6 803.7,1503.6 804.5,1503.6 805.3,1503.6 806.1,1489.1 806.9,1503.6 807.7,1503.6 808.5,1503.6 809.4,1472.0 810.2,1503.6 811.0,1503.6 811.8,1503.6 812.6,1503.6 813.4,1503.5 814.2,1489.7 815.0,1503.1 815.9,1503.6 816.7,1503.6 817.5,1503.6 818.3,1501.8 819.1,1503.6 819.9,1495.7 820.7,1503.6 821.5,1503.1 822.4,1503.6 823.2,1503.6 824.0,1503.6 824.8,1467.8 825.6,1503.3 826.4,1503.6 827.2,1503.6 828.0,1503.6 828.9,1503.6 829.7,1494.1 830.5,1503.6 831.3,1503.6 832.1,1503.6 832.9,1497.2 833.7,1503.6 834.5,1482.9 835.4,1502.9 836.2,1503.6 837.0,1498.5 837.8,1503.6 838.6,1503.6 839.4,1503.6 840.2,1503.6 841.1,1503.6 841.9,1498.1 842.7,1502.2 843.5,1503.6 844.3,1479.9 845.1,1503.6 845.9,1503.5 846.7,1496.9 847.6,1484.6 848.4,1503.6 849.2,1503.6 850.0,1503.6 850.8,1503.6 851.6,1503.6 852.4,1503.6 853.2,1503.6 854.1,1503.6 854.9,1503.2 855.7,1494.6 856.5,1487.0 857.3,1503.6 858.1,1503.6 858.9,1503.6 859.7,1503.6 860.6,1495.0 861.4,1503.6 862.2,1503.6 863.0,1367.6 863.8,1503.6 864.6,1503.6 865.4,1488.6 866.2,1503.6 867.1,1503.6 867.9,1503.6 868.7,1503.6 869.5,1503.6 870.3,1071.5 871.1,1503.0 871.9,1500.4 872.7,1503.6 873.6,1501.7 874.4,1503.6 875.2,1484.9 876.0,1503.6 876.8,1503.6 877.6,1503.6 878.4,1503.6 879.3,1503.6 880.1,1503.6 880.9,1297.0 881.7,1503.6 882.5,1499.1 883.3,1503.6 884.1,1500.0 884.9,1503.6 885.8,1463.1 886.6,1503.6 887.4,1503.6 888.2,1496.4 889.0,1493.0 889.8,1503.6 890.6,1503.6 891.4,1503.6 892.3,1503.6 893.1,1503.6 893.9,1503.6 894.7,1495.7 895.5,1495.1 896.3,1503.6 897.1,1501.9 897.9,1497.6 898.8,1491.0 899.6,1503.6 900.4,1503.6 901.2,1499.4 902.0,1489.7 902.8,1327.1 903.6,1484.3 904.4,1487.2 905.3,1503.6 906.1,1503.6 906.9,1503.6 907.7,1503.6 908.5,1306.0 909.3,1503.6 910.1,1478.4 911.0,1479.5 911.8,1503.6 912.6,1503.6 913.4,1503.6 914.2,1503.6 915.0,1492.1 915.8,1500.1 916.6,1503.6 917.5,1503.6 918.3,1392.9 919.1,1498.5 919.9,1503.6 920.7,1503.6 921.5,1503.6 922.3,1503.6 923.1,1503.6 924.0,1503.6 924.8,1503.6 925.6,1026.7 926.4,1503.6 927.2,1503.0 928.0,1503.6 928.8,1503.6 929.6,1503.6 930.5,1502.5 931.3,1503.6 932.1,1503.6 932.9,1503.6 933.7,1503.6 934.5,1503.6 935.3,1306.0 936.1,1482.5 937.0,1298.1 937.8,1472.0 938.6,1300.7 939.4,1461.4 940.2,1503.6 941.0,1503.6 941.8,1501.6 942.7,1503.6 943.5,1503.6 944.3,1303.3 945.1,1496.7 945.9,1503.6 946.7,1503.6 947.5,1503.6 948.3,1503.6 949.2,1494.2 950.0,1313.9 950.8,1498.8 951.6,1503.6 952.4,1503.6 953.2,1348.1 954.0,1503.6 954.8,1503.6 955.7,1503.6 956.5,1503.6 957.3,1058.3 958.1,1502.3 958.9,1503.6 959.7,1503.6 960.5,1478.7 961.3,1466.7 962.2,1503.6 963.0,1503.3 963.8,1503.6 964.6,1503.6 965.4,1498.7 966.2,1497.5 967.0,1184.8 967.8,1493.4 968.7,1503.6 969.5,1503.6 970.3,1503.6 971.1,1503.6 971.9,1503.2 972.7,1503.6 973.5,1503.6 974.3,1503.6 975.2,1503.6 976.0,1503.6 976.8,1503.6 977.6,1497.4 978.4,1503.6 979.2,1494.5 980.0,1491.0 980.9,1071.5 981.7,1503.6 982.5,1503.6 983.3,1503.6 984.1,1499.4 984.9,1490.9 985.7,1503.6 986.5,1498.7 987.4,1497.0 988.2,1480.9 989.0,1503.6 989.8,1503.6 990.6,1503.6 991.4,1503.6 992.2,1503.6 993.0,1503.6 993.9,1503.6 994.7,1503.6 995.5,1503.6 996.3,1063.6 997.1,1082.0 997.9,1503.6 998.7,1497.3 999.5,1134.7 1000.4,1087.3 1001.2,1503.6 1002.0,1503.6 1002.8,1366.6 1003.6,1503.6 1004.4,1503.6 1005.2,1503.6"/>
<polyline fill="none" stroke="#cc2d24" stroke-width="2.5" stroke-linejoin="round" points="196.5,1437.7 197.3,1345.5 198.1,1327.1 198.9,1387.7 199.8,1445.8 200.6,1437.7 201.4,1423.5 202.2,1474.6 203.0,1392.9 203.8,1406.9 204.6,1442.7 205.4,1429.8 206.3,1371.8 207.1,1432.9 207.9,1495.7 208.7,1468.0 209.5,1403.5 210.3,1440.4 211.1,1418.7 211.9,1471.2 212.8,1503.6 213.6,1423.0 214.4,1438.9 215.2,1369.2 216.0,1429.6 216.8,1470.6 217.6,1440.5 218.4,1495.4 219.3,1371.8 220.1,1441.6 220.9,1451.3 221.7,1399.2 222.5,1478.6 223.3,1415.6 224.1,1491.4 224.9,1451.2 225.8,1467.4 226.6,1390.5 227.4,1382.1 228.2,1443.3 229.0,1409.8 229.8,1439.9 230.6,1418.6 231.5,1457.4 232.3,1485.5 233.1,1371.8 233.9,1425.7 234.7,1372.1 235.5,1429.9 236.3,1453.4 237.1,1383.2 238.0,1432.2 238.8,1436.5 239.6,1432.6 240.4,1444.2 241.2,1449.8 242.0,1482.8 242.8,1427.1 243.6,1444.9 244.5,1408.0 245.3,1453.7 246.1,1498.6 246.9,1446.7 247.7,1394.9 248.5,1455.7 249.3,1470.8 250.1,1480.0 251.0,1476.2 251.8,1454.9 252.6,1385.0 253.4,1403.5 254.2,1455.5 255.0,1444.6 255.8,1406.4 256.6,1405.0 257.5,1455.1 258.3,1439.7 259.1,1428.4 259.9,1455.7 260.7,1502.0 261.5,1431.9 262.3,1425.4 263.1,1439.6 264.0,1379.8 264.8,1458.2 265.6,1470.0 266.4,1462.0 267.2,1416.1 268.0,1409.7 268.8,1435.1 269.7,1438.9 270.5,1435.6 271.3,1456.0 272.1,1458.2 272.9,1476.0 273.7,1458.4 274.5,1391.7 275.3,1432.4 276.2,1467.9 277.0,1472.1 277.8,1483.9 278.6,1448.4 279.4,1448.3 280.2,1501.9 281.0,1446.5 281.8,1477.5 282.7,1420.2 283.5,1457.4 284.3,1412.7 285.1,1476.0 285.9,1471.5 286.7,1455.0 287.5,1433.7 288.3,1448.2 289.2,1500.4 290.0,1460.1 290.8,1465.2 291.6,1478.6 292.4,1485.3 293.2,1417.0 294.0,1478.8 294.8,1492.3 295.7,1450.2 296.5,1465.2 297.3,1471.5 298.1,1447.4 298.9,1456.3 299.7,1460.3 300.5,1443.6 301.4,1463.4 302.2,1489.6 303.0,1482.6 303.8,1487.3 304.6,1466.8 305.4,1503.6 306.2,1503.6 307.0,1471.1 307.9,1503.6 308.7,1503.6 309.5,1463.8 310.3,1345.5 311.1,1460.8 311.9,1490.2 312.7,1503.6 313.5,1503.6 314.4,1490.5 315.2,1483.9 316.0,1499.7 316.8,1484.7 317.6,1503.6 318.4,1476.8 319.2,1503.6 320.0,1483.2 320.9,1458.4 321.7,1447.6 322.5,1430.4 323.3,1503.6 324.1,1457.8 324.9,1414.0 325.7,1452.1 326.5,1503.6 327.4,1468.5 328.2,1428.1 329.0,1503.6 329.8,1467.1 330.6,1449.4 331.4,1500.1 332.2,1464.5 333.1,1503.6 333.9,1503.6 334.7,1503.6 335.5,1476.0 336.3,1484.0 337.1,1455.0 337.9,1503.6 338.7,1485.5 339.6,1455.3 340.4,1466.6 341.2,1503.6 342.0,1463.9 342.8,1495.8 343.6,1472.0 344.4,1474.5 345.2,1449.2 346.1,1479.8 346.9,1503.6 347.7,1503.6 348.5,1463.3 349.3,1408.7 350.1,1452.3 350.9,1476.3 351.7,1503.6 352.6,1454.3 353.4,1503.6 354.2,1503.6 355.0,1427.8 355.8,1503.6 356.6,1467.3 357.4,1459.1 358.2,1481.0 359.1,1503.6 359.9,1457.4 360.7,1503.6 361.5,1503.6 362.3,1495.2 363.1,1463.7 363.9,1477.1 364.7,1463.2 365.6,1497.5 366.4,1490.1 367.2,1503.6 368.0,1494.1 368.8,1469.3 369.6,1493.7 370.4,1472.6 371.3,1501.1 372.1,1501.7 372.9,1484.5 373.7,1490.9 374.5,1469.6 375.3,1480.8 376.1,1438.5 376.9,1491.7 377.8,1491.9 378.6,1503.6 379.4,1485.2 380.2,1467.4 381.0,1503.6 381.8,1487.2 382.6,1466.5 383.4,1489.4 384.3,1500.0 385.1,1459.7 385.9,1483.4 386.7,1475.4 387.5,1454.5 388.3,1455.3 389.1,1495.5 389.9,1500.3 390.8,1478.5 391.6,1489.8 392.4,1503.6 393.2,1452.0 394.0,1485.8 394.8,1466.6 395.6,1503.6 396.4,1451.8 397.3,1502.1 398.1,1489.3 398.9,1503.6 399.7,1176.9 400.5,1492.6 401.3,1491.5 402.1,1474.8 403.0,1485.0 403.8,1460.6 404.6,1499.1 405.4,1503.6 406.2,1487.2 407.0,1470.0 407.8,1453.6 408.6,1465.1 409.5,1503.6 410.3,1476.8 411.1,1448.1 411.9,1485.2 412.7,1500.6 413.5,1478.7 414.3,1500.3 415.1,1470.0 416.0,1487.3 416.8,1450.2 417.6,1421.9 418.4,1503.6 419.2,1471.1 420.0,1462.4 420.8,1502.2 421.6,1498.4 422.5,1503.6 423.3,1463.4 424.1,1502.8 424.9,1503.6 425.7,1503.6 426.5,1493.2 427.3,1467.4 428.1,1489.7 429.0,1475.0 429.8,1503.6 430.6,1503.6 431.4,1464.3 432.2,1474.6 433.0,1488.4 433.8,1454.0 434.7,1503.6 435.5,1498.6 436.3,1460.8 437.1,1439.6 437.9,1419.3 438.7,1443.9 439.5,1503.5 440.3,1479.2 441.2,1492.5 442.0,1503.6 442.8,1481.5 443.6,1464.1 444.4,1492.4 445.2,1490.6 446.0,1452.7 446.8,1503.6 447.7,1503.6 448.5,1503.6 449.3,1503.6 450.1,1421.9 450.9,1481.8 451.7,1503.6 452.5,1503.6 453.3,1416.3 454.2,1503.6 455.0,1503.6 455.8,1482.9 456.6,1474.5 457.4,1485.4 458.2,1503.6 459.0,1503.6 459.8,1476.2 460.7,1008.2 461.5,1503.6 462.3,1461.9 463.1,1472.3 463.9,1498.6 464.7,1499.2 465.5,1486.7 466.3,1503.6 467.2,1503.6 468.0,1484.9 468.8,1503.6 469.6,1483.5 470.4,1503.6 471.2,1496.3 472.0,1497.4 472.9,1448.6 473.7,1503.6 474.5,1503.6 475.3,1271.7 476.1,1503.6 476.9,1503.6 477.7,1484.3 478.5,1475.6 479.4,1453.1 480.2,1503.6 481.0,1428.6 481.8,1445.5 482.6,1501.3 483.4,1503.6 484.2,1498.6 485.0,1494.9 485.9,1503.6 486.7,1495.3 487.5,1502.4 488.3,1503.6 489.1,1430.9 489.9,1419.3 490.7,1503.6 491.5,1492.6 492.4,1503.6 493.2,1503.6 494.0,1497.1 494.8,1486.1 495.6,1503.6 496.4,1503.6 497.2,1485.2 498.0,1503.6 498.9,1497.3 499.7,1455.8 500.5,1501.2 501.3,1503.6 502.1,1503.6 502.9,1472.0 503.7,1502.0 504.6,1488.3 505.4,1478.8 506.2,1503.5 507.0,1503.6 507.8,1503.6 508.6,1503.6 509.4,1503.6 510.2,1503.6 511.1,1447.7 511.9,1493.6 512.7,1503.6 513.5,1500.2 514.3,1484.7 515.1,1503.6 515.9,1503.6 516.7,1503.6 517.6,1481.0 518.4,1503.6 519.2,1493.5 520.0,1431.9 520.8,1479.3 521.6,1432.5 522.4,1486.8 523.2,1503.6 524.1,1495.7 524.9,1503.1 525.7,1503.6 526.5,1473.6 527.3,1503.6 528.1,1490.0 528.9,1503.6 529.7,1482.5 530.6,1474.7 531.4,1503.6 532.2,1503.6 533.0,1503.6 533.8,1486.5 534.6,1503.6 535.4,1503.6 536.3,1495.6 537.1,1503.6 537.9,1503.6 538.7,1435.1 539.5,1500.7 540.3,1503.6 541.1,1503.6 541.9,1503.6 542.8,1503.6 543.6,1503.6 544.4,1432.5 545.2,1503.6 546.0,1503.6 546.8,1486.2 547.6,1503.6 548.4,1495.9 549.3,1497.1 550.1,1503.6 550.9,1495.1 551.7,1500.6 552.5,1501.5 553.3,1503.6 554.1,1417.7 554.9,1419.3 555.8,1456.0 556.6,1503.6 557.4,1496.6 558.2,1503.6 559.0,1490.6 559.8,1499.2 560.6,1484.0 561.4,1503.6 562.3,1503.6 563.1,1503.6 563.9,1503.6 564.7,1503.6 565.5,1503.6 566.3,1493.9 567.1,1464.1 567.9,1503.6 568.8,1503.6 569.6,1503.3 570.4,1503.6 571.2,1503.6 572.0,1503.6 572.8,1503.6 573.6,1493.6 574.5,1485.1 575.3,1503.6 576.1,1503.6 576.9,1503.6 577.7,1503.6 578.5,1498.5 579.3,1503.6 580.1,1503.6 581.0,1503.6 581.8,1503.6 582.6,1492.2 583.4,1483.4 584.2,1503.6 585.0,1502.1 585.8,1503.6 586.6,1486.5 587.5,1490.6 588.3,1503.6 589.1,1488.6 589.9,1503.6 590.7,1503.6 591.5,1503.6 592.3,1503.6 593.1,1503.6 594.0,1503.6 594.8,1503.6 595.6,1494.9 596.4,1488.7 597.2,1503.6 598.0,1437.7 598.8,1496.2 599.6,1486.2 600.5,1437.7 601.3,1503.6 602.1,1503.6 602.9,1477.2 603.7,1503.6 604.5,1502.6 605.3,1503.6 606.2,1503.6 607.0,1502.1 607.8,1503.6 608.6,1459.9 609.4,1482.4 610.2,1503.6 611.0,1503.6 611.8,1503.6 612.7,1503.6 613.5,1503.6 614.3,1475.5 615.1,1503.6 615.9,1503.6 616.7,1503.6 617.5,1503.6 618.3,1503.6 619.2,1503.6 620.0,1473.7 620.8,1456.2 621.6,1503.6 622.4,1503.6 623.2,1479.2 624.0,1482.2 624.8,1503.6 625.7,1503.6 626.5,1503.6 627.3,1501.4 628.1,1503.6 628.9,1503.6 629.7,1503.6 630.5,1503.6 631.3,1503.6 632.2,1481.4 633.0,1503.6 633.8,1503.6 634.6,1503.6 635.4,1457.8 636.2,1503.6 637.0,1491.4 637.9,1503.6 638.7,1503.6 639.5,1503.6 640.3,1503.6 641.1,1444.0 641.9,1445.6 642.7,1503.6 643.5,1495.0 644.4,1503.6 645.2,1503.6 646.0,1503.6 646.8,1503.6 647.6,1499.4 648.4,1500.5 649.2,1503.6 650.0,1503.6 650.9,1503.6 651.7,1488.5 652.5,1503.6 653.3,1457.2 654.1,1503.6 654.9,1454.1 655.7,1502.8 656.5,1492.8 657.4,1498.4 658.2,1491.9 659.0,1499.6 659.8,1503.6 660.6,1496.4 661.4,1503.6 662.2,1483.2 663.0,1503.6 663.9,1503.6 664.7,1498.4 665.5,1483.6 666.3,1503.6 667.1,1503.6 667.9,1503.6 668.7,1503.6 669.5,1469.0 670.4,1468.3 671.2,1484.0 672.0,1468.3 672.8,1503.6 673.6,1414.0 674.4,1171.6 675.2,1500.3 676.1,1503.6 676.9,1503.6 677.7,1503.6 678.5,1503.6 679.3,1503.6 680.1,1503.6 680.9,1503.6 681.7,1503.6 682.6,1498.3 683.4,1503.6 684.2,1503.6 685.0,1503.6 685.8,1503.6 686.6,1503.6 687.4,1503.6 688.2,1503.6 689.1,1503.6 689.9,1503.6 690.7,1503.6 691.5,1503.6 692.3,1503.6 693.1,1503.6 693.9,1503.6 694.7,1503.6 695.6,1503.6 696.4,1503.6 697.2,1503.6 698.0,1503.6 698.8,1503.6 699.6,1503.6 700.4,1503.6 701.2,1503.6 702.1,1489.9 702.9,1503.6 703.7,1503.6 704.5,1503.6 705.3,1503.6 706.1,1503.6 706.9,1503.6 707.8,1503.6 708.6,1503.6 709.4,1503.6 710.2,1503.6 711.0,1503.6 711.8,1503.6 712.6,1503.6 713.4,1503.6 714.3,1503.6 715.1,1503.6 715.9,1503.6 716.7,1503.6 717.5,1503.6 718.3,1503.6 719.1,1503.6 719.9,1503.6 720.8,1503.6 721.6,1503.6 722.4,1503.6 723.2,1503.6 724.0,1503.6 724.8,1503.6 725.6,1503.6 726.4,1503.6 727.3,1503.6 728.1,1503.6 728.9,1503.6 729.7,1503.6 730.5,1503.6 731.3,1503.6 732.1,1503.6 732.9,1503.6 733.8,1480.9 734.6,1493.1 735.4,1503.6 736.2,1503.6 737.0,1503.6 737.8,1503.6 738.6,1503.6 739.5,1503.6 740.3,1482.5 741.1,1503.6 741.9,1503.6 742.7,1503.6 743.5,1503.6 744.3,1503.6 745.1,1503.6 746.0,1503.6 746.8,1503.6 747.6,1503.6 748.4,1487.8 749.2,1453.5 750.0,1503.6 750.8,1503.6 751.6,1503.6 752.5,1503.6 753.3,1503.6 754.1,1411.4 754.9,1503.6 755.7,1503.6 756.5,1503.6 757.3,1503.6 758.1,1503.6 759.0,1503.6 759.8,1503.6 760.6,1503.6 761.4,1503.6 762.2,1503.6 763.0,1503.6 763.8,1503.6 764.6,1503.6 765.5,1503.6 766.3,1503.6 767.1,1503.6 767.9,1503.6 768.7,1503.6 769.5,1487.8 770.3,1503.6 771.1,1495.7 772.0,1503.6 772.8,1487.8 773.6,1503.6 774.4,1503.6 775.2,1503.6 776.0,1503.6 776.8,1503.6 777.7,1432.5 778.5,1503.6 779.3,1503.6 780.1,1503.6 780.9,1503.6 781.7,1503.6 782.5,1503.6 783.3,1503.6 784.2,1503.6 785.0,1485.7 785.8,1503.6 786.6,1503.6 787.4,1490.4 788.2,1503.6 789.0,1503.6 789.8,1493.1 790.7,1503.6 791.5,1503.6 792.3,1503.6 793.1,1503.6 793.9,1503.6 794.7,1503.6 795.5,1503.6 796.3,1503.6 797.2,1503.6 798.0,1503.6 798.8,1503.6 799.6,1464.1 800.4,1503.6 801.2,1439.3 802.0,1503.6 802.8,1503.6 803.7,1503.6 804.5,1503.6 805.3,1503.6 806.1,1503.6 806.9,1503.6 807.7,1503.6 808.5,1503.6 809.4,1503.6 810.2,1503.6 811.0,1503.6 811.8,1503.6 812.6,1503.6 813.4,1503.6 814.2,1496.7 815.0,1503.6 815.9,1503.6 816.7,1503.6 817.5,1503.6 818.3,1503.6 819.1,1503.6 819.9,1503.6 820.7,1503.6 821.5,1503.6 822.4,1496.7 823.2,1503.6 824.0,1503.6 824.8,1503.6 825.6,1503.6 826.4,1503.6 827.2,1503.6 828.0,1490.4 828.9,1503.6 829.7,1503.6 830.5,1503.6 831.3,1503.6 832.1,1503.6 832.9,1503.6 833.7,1503.6 834.5,1503.6 835.4,1503.6 836.2,1503.6 837.0,1503.6 837.8,1503.6 838.6,1499.9 839.4,1503.6 840.2,1503.6 841.1,1503.6 841.9,1503.6 842.7,1503.6 843.5,1497.3 844.3,1503.6 845.1,1503.6 845.9,1503.6 846.7,1448.3 847.6,1503.6 848.4,1466.7 849.2,1503.6 850.0,1503.6 850.8,1503.6 851.6,1503.6 852.4,1503.6 853.2,1503.6 854.1,1503.6 854.9,1503.6 855.7,1503.6 856.5,1503.6 857.3,1503.6 858.1,1503.6 858.9,1503.6 859.7,1503.6 860.6,1503.6 861.4,1503.6 862.2,1503.6 863.0,1134.7 863.8,1503.6 864.6,1503.6 865.4,1503.6 866.2,1503.6 867.1,1503.6 867.9,1461.4 868.7,1503.6 869.5,1503.6 870.3,1176.9 871.1,1503.6 871.9,1503.6 872.7,1503.6 873.6,1503.6 874.4,1503.6 875.2,1503.6 876.0,1503.6 876.8,1503.6 877.6,1503.6 878.4,1500.0 879.3,1503.6 880.1,1503.6 880.9,976.6 881.7,1503.6 882.5,1503.6 883.3,1500.4 884.1,1498.3 884.9,1503.6 885.8,1503.6 886.6,1497.9 887.4,1503.6 888.2,1503.6 889.0,1500.6 889.8,1503.6 890.6,1503.6 891.4,1503.6 892.3,1503.6 893.1,1503.6 893.9,1503.6 894.7,1503.6 895.5,1503.6 896.3,1503.6 897.1,1503.6 897.9,1503.6 898.8,1503.6 899.6,1503.6 900.4,1503.6 901.2,1477.2 902.0,1503.6 902.8,1002.9 903.6,1503.6 904.4,1503.6 905.3,1503.6 906.1,1503.6 906.9,1503.6 907.7,1503.6 908.5,992.4 909.3,1501.2 910.1,1464.1 911.0,1503.6 911.8,1503.6 912.6,1502.4 913.4,1503.6 914.2,1503.6 915.0,1503.6 915.8,1500.0 916.6,1503.6 917.5,1503.6 918.3,1197.9 919.1,1503.6 919.9,1503.6 920.7,1503.6 921.5,1503.6 922.3,1503.6 923.1,1503.6 924.0,1503.6 924.8,1502.0 925.6,1021.4 926.4,1503.6 927.2,1503.6 928.0,1503.6 928.8,1503.6 929.6,1503.6 930.5,1503.6 931.3,1503.6 932.1,1503.6 932.9,1503.6 933.7,1503.6 934.5,1503.6 935.3,1503.6 936.1,992.4 937.0,1503.0 937.8,1503.6 938.6,976.6 939.4,1187.4 940.2,1503.6 941.0,1503.6 941.8,1503.6 942.7,1503.6 943.5,1503.6 944.3,1002.9 945.1,1498.0 945.9,1501.4 946.7,1503.6 947.5,1503.6 948.3,1503.6 949.2,1503.6 950.0,1045.1 950.8,1503.6 951.6,1503.6 952.4,1503.6 953.2,1082.0 954.0,1503.6 954.8,1503.6 955.7,1498.9 956.5,1503.0 957.3,1140.0 958.1,1503.6 958.9,1503.6 959.7,1503.6 960.5,1501.7 961.3,1374.5 962.2,1502.9 963.0,1502.7 963.8,1502.6 964.6,1461.4 965.4,1503.6 966.2,1503.6 967.0,1271.7 967.8,1503.6 968.7,1498.4 969.5,1503.6 970.3,1503.6 971.1,1464.1 971.9,1503.6 972.7,1503.6 973.5,1499.8 974.3,1503.6 975.2,1487.8 976.0,1503.6 976.8,1503.6 977.6,1503.6 978.4,1503.6 979.2,1502.3 980.0,1502.4 980.9,1179.5 981.7,1503.6 982.5,1503.6 983.3,1503.6 984.1,1503.6 984.9,1503.6 985.7,1466.7 986.5,1503.6 987.4,1503.6 988.2,1503.6 989.0,1503.6 989.8,1503.6 990.6,1503.6 991.4,1461.4 992.2,1502.7 993.0,1503.0 993.9,1503.6 994.7,1503.6 995.5,1503.6 996.3,1192.7 997.1,1503.6 997.9,1500.6 998.7,1499.5 999.5,1500.9 1000.4,1190.0 1001.2,1503.6 1002.0,1503.6 1002.8,1501.5 1003.6,1498.9 1004.4,1503.6 1005.2,1503.6"/>
<text x="145.0" y="1518.2" font-size="20.4" text-anchor="end" font-weight="normal">0.0</text>
<text x="145.0" y="1412.5" font-size="20.4" text-anchor="end" font-weight="normal">0.2</text>
<text x="145.0" y="1306.7" font-size="20.4" text-anchor="end" font-weight="normal">0.4</text>
<text x="145.0" y="1201.0" font-size="20.4" text-anchor="end" font-weight="normal">0.6</text>
<text x="145.0" y="1095.3" font-size="20.4" text-anchor="end" font-weight="normal">0.8</text>
<text x="141.3" y="989.5" font-size="20.4" text-anchor="end" font-weight="normal">1.0</text>
<text x="197.5" y="1558.7" font-size="20.4" text-anchor="middle" font-weight="normal">0</text>
<text x="364.0" y="1558.7" font-size="20.4" text-anchor="middle" font-weight="normal">200</text>
<text x="522.0" y="1558.7" font-size="20.4" text-anchor="middle" font-weight="normal">400</text>
<text x="688.0" y="1558.7" font-size="20.4" text-anchor="middle" font-weight="normal">600</text>
<text x="847.0" y="1558.7" font-size="20.4" text-anchor="middle" font-weight="normal">800</text>
<text x="1011.0" y="1558.7" font-size="20.4" text-anchor="middle" font-weight="normal">1000</text>
<text x="605.0" y="1577.0" font-size="20.4" text-anchor="middle" font-weight="normal">Tokens</text>
<text transform="translate(88.0 1247.0) rotate(-90)" font-size="20.3" text-anchor="middle">Normalized Token Importance</text>
<text x="580.2" y="915.0" font-size="28.5" text-anchor="middle" font-weight="bold">Token Importance Sequence vs Predicted Lab</text>
<g fill="none" stroke="#cfcfcf" stroke-width="1.3"><path d="M1245.8 954.5V1533.2"/><path d="M1408.3 954.5V1533.2"/><path d="M1570.8 954.5V1533.2"/><path d="M1733.3 954.5V1533.2"/><path d="M1895.8 954.5V1533.2"/><path d="M2058.3 954.5V1533.2"/><path d="M1204.5 1417.5H2096.5"/><path d="M1204.5 1301.7H2096.5"/><path d="M1204.5 1186.0H2096.5"/><path d="M1204.5 1070.2H2096.5"/><rect x="1204.5" y="954.5" width="892.0" height="578.7"/></g>
<clipPath id="cd"><rect x="1200" y="950" width="920" height="583.8"/></clipPath>
<g clip-path="url(#cd)"><polyline fill="none" stroke="#2878a4" stroke-width="2.5" stroke-linejoin="round" points="1245.5,1437.7 1246.3,1512.0 1247.1,1493.6 1247.9,1397.2 1248.8,1397.9 1249.6,1397.2 1250.4,1399.2 1251.2,1419.3 1252.0,1460.4 1252.8,1505.8 1253.6,1456.1 1254.4,1446.4 1255.3,1500.2 1256.1,1491.0 1256.9,1394.3 1257.7,1398.3 1258.5,1422.1 1259.3,1516.5 1260.1,1409.2 1261.0,1401.6 1261.8,1507.2 1262.6,1520.3 1263.4,1427.6 1264.2,1397.2 1265.0,1401.2 1265.8,1399.1 1266.7,1462.4 1267.5,1398.1 1268.3,1505.9 1269.1,1413.7 1269.9,1401.9 1270.7,1429.9 1271.5,1402.8 1272.3,1492.3 1273.2,1385.6 1274.0,1420.2 1274.8,1412.2 1275.6,1507.0 1276.4,1371.2 1277.2,1405.7 1278.0,1515.7 1278.9,1519.7 1279.7,1511.9 1280.5,1447.8 1281.3,1480.9 1282.1,1483.2 1282.9,1493.3 1283.7,1465.7 1284.5,1528.0 1285.4,1497.7 1286.2,1467.4 1287.0,1468.1 1287.8,1528.0 1288.6,1465.8 1289.4,1449.2 1290.2,1527.1 1291.1,1445.0 1291.9,1528.2 1292.7,1530.5 1293.5,1518.7 1294.3,1495.9 1295.1,1412.1 1295.9,1459.2 1296.8,1468.5 1297.6,1506.7 1298.4,1456.9 1299.2,1424.5 1300.0,1503.1 1300.8,1452.1 1301.6,1482.5 1302.4,1503.0 1303.3,1518.7 1304.1,1519.8 1304.9,1508.6 1305.7,1520.0 1306.5,1507.2 1307.3,1424.0 1308.1,1515.6 1309.0,1498.1 1309.8,1496.0 1310.6,1485.9 1311.4,1454.4 1312.2,1490.1 1313.0,1433.0 1313.8,1531.5 1314.6,1503.2 1315.5,1522.4 1316.3,1453.6 1317.1,1490.5 1317.9,1509.6 1318.7,1507.0 1319.5,1527.5 1320.3,1501.0 1321.2,1490.3 1322.0,1456.0 1322.8,1465.1 1323.6,1460.5 1324.4,1506.2 1325.2,1464.9 1326.0,1458.4 1326.8,1447.1 1327.7,1472.6 1328.5,1414.5 1329.3,1531.3 1330.1,1516.9 1330.9,1504.9 1331.7,1498.0 1332.5,1532.3 1333.4,1447.8 1334.2,1519.4 1335.0,1484.0 1335.8,1517.5 1336.6,1518.9 1337.4,1528.9 1338.2,1482.8 1339.1,1502.7 1339.9,1504.5 1340.7,1490.5 1341.5,1509.0 1342.3,1507.5 1343.1,1486.8 1343.9,1530.7 1344.7,1517.3 1345.6,1524.8 1346.4,1368.8 1347.2,1527.8 1348.0,1509.0 1348.8,1521.6 1349.6,1521.8 1350.4,1525.1 1351.3,1503.1 1352.1,1467.7 1352.9,1523.6 1353.7,1525.6 1354.5,1524.9 1355.3,1488.9 1356.1,1503.5 1356.9,1474.0 1357.8,1513.3 1358.6,1525.3 1359.4,1477.6 1360.2,1526.1 1361.0,1493.2 1361.8,1521.1 1362.6,1473.6 1363.5,1492.7 1364.3,1510.1 1365.1,1521.6 1365.9,1522.4 1366.7,1499.9 1367.5,1521.5 1368.3,1505.3 1369.2,1525.5 1370.0,1526.9 1370.8,1525.7 1371.6,1468.9 1372.4,1530.7 1373.2,1493.0 1374.0,1470.0 1374.8,1488.0 1375.7,1493.7 1376.5,1532.8 1377.3,1490.3 1378.1,1518.3 1378.9,1532.4 1379.7,1517.1 1380.5,1501.9 1381.4,1512.3 1382.2,1492.8 1383.0,1533.2 1383.8,1481.2 1384.6,1508.9 1385.4,1531.3 1386.2,1493.7 1387.0,1490.8 1387.9,1517.3 1388.7,1503.9 1389.5,1500.7 1390.3,1466.8 1391.1,1533.1 1391.9,1513.5 1392.7,1526.5 1393.6,1489.5 1394.4,1528.7 1395.2,1512.3 1396.0,1484.2 1396.8,1503.5 1397.6,1497.8 1398.4,1489.9 1399.3,1488.6 1400.1,1529.0 1400.9,1504.1 1401.7,1501.2 1402.5,1496.1 1403.3,1529.7 1404.1,1494.3 1404.9,1520.5 1405.8,1521.2 1406.6,1510.2 1407.4,1527.5 1408.2,1532.0 1409.0,1513.3 1409.8,1525.7 1410.6,1509.8 1411.5,1514.6 1412.3,1522.6 1413.1,1532.2 1413.9,1509.2 1414.7,1507.1 1415.5,1501.3 1416.3,1523.6 1417.1,1520.6 1418.0,1526.3 1418.8,1494.5 1419.6,1516.6 1420.4,1528.4 1421.2,1511.7 1422.0,1516.5 1422.8,1523.9 1423.7,1525.0 1424.5,1519.0 1425.3,1516.7 1426.1,1528.9 1426.9,1522.9 1427.7,1504.1 1428.5,1532.1 1429.4,1530.8 1430.2,1509.3 1431.0,1512.3 1431.8,1531.9 1432.6,1508.0 1433.4,1525.5 1434.2,1531.1 1435.0,1525.2 1435.9,1530.1 1436.7,1518.0 1437.5,1517.9 1438.3,1526.1 1439.1,1485.7 1439.9,1515.0 1440.7,1502.3 1441.6,1509.8 1442.4,1514.3 1443.2,1531.9 1444.0,1505.2 1444.8,1482.4 1445.6,1499.0 1446.4,1525.7 1447.2,1530.1 1448.1,1475.8 1448.9,1313.3 1449.7,1532.1 1450.5,1526.5 1451.3,1529.6 1452.1,1513.2 1452.9,1495.4 1453.8,1500.5 1454.6,1519.9 1455.4,1522.4 1456.2,1513.2 1457.0,1523.1 1457.8,1513.4 1458.6,1512.8 1459.5,1528.1 1460.3,1484.9 1461.1,1522.3 1461.9,1502.1 1462.7,1511.3 1463.5,1529.8 1464.3,1529.9 1465.1,1518.9 1466.0,1495.1 1466.8,1490.0 1467.6,1533.2 1468.4,1512.8 1469.2,1514.2 1470.0,1500.5 1470.8,1528.6 1471.7,1495.1 1472.5,1519.7 1473.3,1494.4 1474.1,1494.4 1474.9,1511.0 1475.7,1517.4 1476.5,1501.4 1477.3,1521.0 1478.2,1508.1 1479.0,1525.3 1479.8,1499.9 1480.6,1498.6 1481.4,1515.9 1482.2,1519.8 1483.0,1489.6 1483.9,1489.7 1484.7,1521.5 1485.5,1524.5 1486.3,1524.6 1487.1,1459.1 1487.9,1480.7 1488.7,1479.0 1489.5,1482.9 1490.4,1523.4 1491.2,1506.3 1492.0,1529.8 1492.8,1498.6 1493.6,1529.7 1494.4,1528.5 1495.2,1502.8 1496.1,1505.8 1496.9,1527.4 1497.7,1527.3 1498.5,1509.1 1499.3,1479.8 1500.1,1519.0 1500.9,1525.8 1501.8,1523.0 1502.6,1456.5 1503.4,1492.6 1504.2,1533.2 1505.0,1530.6 1505.8,1507.6 1506.6,1531.3 1507.4,1507.6 1508.3,1533.2 1509.1,1516.4 1509.9,1203.3 1510.7,1495.5 1511.5,1499.2 1512.3,1505.7 1513.1,1528.8 1514.0,1501.5 1514.8,1509.2 1515.6,1498.6 1516.4,1533.2 1517.2,1524.4 1518.0,1492.1 1518.8,1515.5 1519.6,1529.2 1520.5,1526.8 1521.3,1527.8 1522.1,1517.4 1522.9,1511.5 1523.7,1514.9 1524.5,1473.0 1525.3,1504.5 1526.2,1495.6 1527.0,1525.8 1527.8,1511.8 1528.6,1488.9 1529.4,1503.9 1530.2,1467.3 1531.0,1482.2 1531.9,1531.0 1532.7,1523.7 1533.5,1513.3 1534.3,1513.6 1535.1,1533.2 1535.9,1525.9 1536.7,1531.5 1537.5,1533.2 1538.4,1475.9 1539.2,1476.0 1540.0,1524.0 1540.8,1523.6 1541.6,1533.2 1542.4,1501.9 1543.2,1527.5 1544.1,1527.3 1544.9,1513.9 1545.7,1531.1 1546.5,1517.0 1547.3,1521.7 1548.1,1527.6 1548.9,1495.7 1549.7,1525.9 1550.6,1533.2 1551.4,1529.9 1552.2,1507.3 1553.0,1531.8 1553.8,1523.5 1554.6,1511.4 1555.4,1533.1 1556.3,1532.2 1557.1,1531.3 1557.9,1533.2 1558.7,1533.2 1559.5,1513.0 1560.3,1502.6 1561.1,1524.2 1562.0,1521.2 1562.8,1530.2 1563.6,1525.0 1564.4,1533.2 1565.2,1489.3 1566.0,1533.2 1566.8,1530.8 1567.6,1533.2 1568.5,1524.3 1569.3,1470.2 1570.1,1529.5 1570.9,1485.6 1571.7,1528.9 1572.5,1533.2 1573.3,1515.4 1574.2,1532.8 1575.0,1500.4 1575.8,1522.6 1576.6,1514.0 1577.4,1523.3 1578.2,1533.2 1579.0,1503.1 1579.8,1516.4 1580.7,1511.4 1581.5,1533.2 1582.3,1529.5 1583.1,1518.1 1583.9,1532.6 1584.7,1528.3 1585.5,1531.4 1586.4,1505.3 1587.2,1520.7 1588.0,1481.5 1588.8,1530.8 1589.6,1495.4 1590.4,1533.2 1591.2,1509.3 1592.1,1533.2 1592.9,1533.2 1593.7,1481.5 1594.5,1531.9 1595.3,1479.7 1596.1,1502.1 1596.9,1484.6 1597.7,1526.5 1598.6,1528.8 1599.4,1501.0 1600.2,1518.5 1601.0,1527.0 1601.8,1531.4 1602.6,1533.2 1603.4,1457.7 1604.3,1459.1 1605.1,1501.6 1605.9,1517.2 1606.7,1527.0 1607.5,1528.3 1608.3,1515.2 1609.1,1531.4 1609.9,1516.0 1610.8,1520.4 1611.6,1521.9 1612.4,1529.1 1613.2,1533.2 1614.0,1533.2 1614.8,1529.1 1615.6,1524.7 1616.5,1522.3 1617.3,1516.5 1618.1,1513.5 1618.9,1498.9 1619.7,1505.8 1620.5,1508.5 1621.3,1525.1 1622.2,1533.2 1623.0,1503.6 1623.8,1516.9 1624.6,1533.2 1625.4,1533.2 1626.2,1528.0 1627.0,1524.8 1627.8,1519.8 1628.7,1533.2 1629.5,1533.2 1630.3,1526.7 1631.1,1516.5 1631.9,1525.1 1632.7,1515.5 1633.5,1523.1 1634.4,1511.0 1635.2,1533.0 1636.0,1513.5 1636.8,1521.8 1637.6,1533.2 1638.4,1520.0 1639.2,1520.4 1640.0,1533.2 1640.9,1524.6 1641.7,1529.5 1642.5,1533.2 1643.3,1507.7 1644.1,1533.2 1644.9,1525.5 1645.7,1525.1 1646.6,1520.0 1647.4,1475.7 1648.2,1526.7 1649.0,1528.6 1649.8,1484.6 1650.6,1501.8 1651.4,1533.2 1652.2,1513.2 1653.1,1533.2 1653.9,1532.3 1654.7,1532.1 1655.5,1520.6 1656.3,1465.1 1657.1,1533.2 1657.9,1494.8 1658.8,1532.1 1659.6,1533.2 1660.4,1524.8 1661.2,1533.2 1662.0,1532.4 1662.8,1533.2 1663.6,1508.5 1664.5,1532.4 1665.3,1525.8 1666.1,1533.2 1666.9,1533.2 1667.7,1533.2 1668.5,1533.2 1669.3,1506.9 1670.1,1491.5 1671.0,1530.1 1671.8,1516.5 1672.6,1511.7 1673.4,1514.4 1674.2,1513.2 1675.0,1532.1 1675.8,1533.2 1676.7,1531.2 1677.5,1531.4 1678.3,1533.2 1679.1,1524.9 1679.9,1533.2 1680.7,1518.6 1681.5,1513.7 1682.3,1524.9 1683.2,1533.2 1684.0,1533.2 1684.8,1492.9 1685.6,1533.2 1686.4,1522.5 1687.2,1525.0 1688.0,1519.0 1688.9,1531.4 1689.7,1533.2 1690.5,1480.9 1691.3,1489.5 1692.1,1518.4 1692.9,1525.6 1693.7,1533.2 1694.6,1533.2 1695.4,1531.5 1696.2,1521.1 1697.0,1529.5 1697.8,1532.7 1698.6,1533.2 1699.4,1533.2 1700.2,1530.2 1701.1,1520.0 1701.9,1529.5 1702.7,1492.5 1703.5,1505.3 1704.3,1489.8 1705.1,1532.5 1705.9,1523.4 1706.8,1530.4 1707.6,1532.7 1708.4,1522.5 1709.2,1533.2 1710.0,1518.5 1710.8,1533.2 1711.6,1517.5 1712.4,1522.4 1713.3,1533.2 1714.1,1531.1 1714.9,1524.1 1715.7,1533.2 1716.5,1528.4 1717.3,1533.2 1718.1,1533.2 1719.0,1502.8 1719.8,1505.2 1720.6,1502.6 1721.4,1503.7 1722.2,1533.2 1723.0,1434.8 1723.8,1429.0 1724.7,1527.6 1725.5,1533.2 1726.3,1519.1 1727.1,1533.2 1727.9,1522.5 1728.7,1533.2 1729.5,1533.2 1730.3,1526.2 1731.2,1533.2 1732.0,1530.9 1732.8,1530.6 1733.6,1533.2 1734.4,1530.3 1735.2,1531.8 1736.0,1528.9 1736.9,1533.2 1737.7,1533.2 1738.5,1488.8 1739.3,1517.8 1740.1,1526.3 1740.9,1529.8 1741.7,1533.2 1742.5,1532.5 1743.4,1376.9 1744.2,1388.5 1745.0,1533.2 1745.8,1374.0 1746.6,1382.7 1747.4,1525.0 1748.2,1481.1 1749.1,1519.8 1749.9,1533.2 1750.7,1533.2 1751.5,1394.9 1752.3,1533.2 1753.1,1533.2 1753.9,1533.2 1754.8,1529.2 1755.6,1533.2 1756.4,1533.2 1757.2,1530.8 1758.0,1503.9 1758.8,1533.2 1759.6,1533.2 1760.4,1522.5 1761.3,1394.3 1762.1,1524.4 1762.9,1411.7 1763.7,1533.2 1764.5,1434.8 1765.3,1509.8 1766.1,1533.2 1767.0,1405.9 1767.8,1530.4 1768.6,1533.2 1769.4,1353.8 1770.2,1359.6 1771.0,1533.2 1771.8,1359.6 1772.6,1429.0 1773.5,1527.1 1774.3,1533.2 1775.1,1512.9 1775.9,1533.0 1776.7,1533.2 1777.5,1429.0 1778.3,1532.9 1779.2,1362.5 1780.0,1365.4 1780.8,1533.2 1781.6,1475.3 1782.4,1533.2 1783.2,1508.3 1784.0,1405.9 1784.9,1533.2 1785.7,1533.2 1786.5,1463.8 1787.3,1523.5 1788.1,1533.2 1788.9,1533.2 1789.7,1512.9 1790.5,1532.1 1791.4,1533.0 1792.2,1531.8 1793.0,1533.2 1793.8,1533.2 1794.6,1531.9 1795.4,1519.9 1796.2,1463.8 1797.1,1533.2 1797.9,1525.3 1798.7,1478.2 1799.5,1531.5 1800.3,1533.2 1801.1,1533.2 1801.9,1426.1 1802.7,1527.3 1803.6,1451.6 1804.4,1533.2 1805.2,1533.2 1806.0,1533.2 1806.8,1529.7 1807.6,1533.2 1808.4,1524.8 1809.3,1533.2 1810.1,1521.0 1810.9,1525.3 1811.7,1533.2 1812.5,1529.4 1813.3,1533.2 1814.1,1524.8 1815.0,1533.2 1815.8,1532.4 1816.6,1529.9 1817.4,1533.2 1818.2,1533.2 1819.0,1521.0 1819.8,1533.2 1820.6,1531.0 1821.5,1533.2 1822.3,1521.0 1823.1,1532.3 1823.9,1533.2 1824.7,1533.2 1825.5,1533.2 1826.3,1532.1 1827.2,1455.1 1828.0,1533.2 1828.8,1533.2 1829.6,1513.0 1830.4,1533.2 1831.2,1533.2 1832.0,1533.2 1832.8,1533.2 1833.7,1533.2 1834.5,1523.3 1835.3,1533.2 1836.1,1532.4 1836.9,1523.1 1837.7,1533.2 1838.5,1523.0 1839.4,1506.9 1840.2,1532.7 1841.0,1533.2 1841.8,1530.5 1842.6,1533.2 1843.4,1522.4 1844.2,1533.2 1845.0,1533.2 1845.9,1533.2 1846.7,1533.2 1847.5,1533.2 1848.3,1533.2 1849.1,1525.1 1849.9,1533.2 1850.7,1462.6 1851.6,1533.2 1852.4,1533.2 1853.2,1533.2 1854.0,1533.2 1854.8,1533.2 1855.6,1522.0 1856.4,1533.2 1857.3,1533.2 1858.1,1533.2 1858.9,1508.9 1859.7,1533.2 1860.5,1533.2 1861.3,1533.2 1862.1,1533.2 1862.9,1533.1 1863.8,1527.8 1864.6,1532.8 1865.4,1533.2 1866.2,1533.2 1867.0,1533.2 1867.8,1531.8 1868.6,1533.2 1869.5,1527.2 1870.3,1533.2 1871.1,1532.8 1871.9,1527.9 1872.7,1533.2 1873.5,1533.2 1874.3,1505.7 1875.1,1533.0 1876.0,1533.2 1876.8,1533.2 1877.6,1523.1 1878.4,1533.2 1879.2,1525.9 1880.0,1533.2 1880.8,1533.2 1881.7,1533.2 1882.5,1528.3 1883.3,1533.2 1884.1,1517.3 1884.9,1532.7 1885.7,1533.2 1886.5,1529.3 1887.4,1533.2 1888.2,1530.4 1889.0,1533.2 1889.8,1533.2 1890.6,1533.2 1891.4,1529.0 1892.2,1532.1 1893.0,1528.3 1893.9,1515.0 1894.7,1533.2 1895.5,1533.1 1896.3,1479.8 1897.1,1518.6 1897.9,1504.8 1898.7,1533.2 1899.6,1533.2 1900.4,1533.2 1901.2,1533.2 1902.0,1533.2 1902.8,1533.2 1903.6,1533.2 1904.4,1532.9 1905.2,1526.3 1906.1,1520.5 1906.9,1533.2 1907.7,1533.2 1908.5,1533.2 1909.3,1533.2 1910.1,1523.8 1910.9,1533.2 1911.8,1533.2 1912.6,1277.4 1913.4,1533.2 1914.2,1533.2 1915.0,1516.7 1915.8,1533.2 1916.6,1533.2 1917.5,1486.9 1918.3,1533.2 1919.1,1533.2 1919.9,1417.5 1920.7,1532.5 1921.5,1529.7 1922.3,1533.2 1923.1,1531.1 1924.0,1533.2 1924.8,1512.7 1925.6,1533.2 1926.4,1533.2 1927.2,1533.2 1928.0,1529.3 1928.8,1533.2 1929.7,1533.2 1930.5,1181.3 1931.3,1533.2 1932.1,1528.2 1932.9,1529.7 1933.7,1531.4 1934.5,1533.2 1935.3,1488.7 1936.2,1527.0 1937.0,1533.2 1937.8,1525.3 1938.6,1524.8 1939.4,1533.2 1940.2,1533.2 1941.0,1533.2 1941.9,1533.2 1942.7,1533.2 1943.5,1533.2 1944.3,1524.5 1945.1,1523.8 1945.9,1533.2 1946.7,1531.4 1947.6,1526.6 1948.4,1519.4 1949.2,1533.2 1950.0,1533.2 1950.8,1508.9 1951.6,1517.9 1952.4,1177.3 1953.2,1512.0 1954.1,1515.2 1954.9,1533.2 1955.7,1533.2 1956.5,1533.2 1957.3,1533.2 1958.1,1188.8 1958.9,1530.6 1959.8,1517.5 1960.6,1506.8 1961.4,1533.2 1962.2,1531.9 1963.0,1533.2 1963.8,1533.2 1964.6,1520.6 1965.4,1533.1 1966.3,1533.2 1967.1,1533.2 1967.9,1319.1 1968.7,1527.6 1969.5,1533.2 1970.3,1533.2 1971.1,1533.2 1972.0,1533.2 1972.8,1533.2 1973.6,1533.2 1974.4,1531.4 1975.2,1226.5 1976.0,1533.2 1976.8,1532.5 1977.7,1533.2 1978.5,1533.2 1979.3,1533.2 1980.1,1532.0 1980.9,1533.2 1981.7,1533.2 1982.5,1533.2 1983.3,1533.2 1984.2,1533.2 1985.0,1504.3 1985.8,1180.2 1986.6,1388.5 1987.4,1359.6 1988.2,1177.3 1989.0,1417.5 1989.9,1533.2 1990.7,1533.2 1991.5,1531.0 1992.3,1533.2 1993.1,1533.2 1993.9,1203.3 1994.7,1531.7 1995.5,1530.8 1996.4,1533.2 1997.2,1533.2 1998.0,1533.2 1998.8,1522.9 1999.6,1238.0 2000.4,1528.0 2001.2,1533.2 2002.1,1533.2 2002.9,1240.9 2003.7,1533.2 2004.5,1533.2 2005.3,1528.1 2006.1,1532.6 2006.9,1443.5 2007.7,1531.8 2008.6,1533.2 2009.4,1533.2 2010.2,1507.9 2011.0,1431.9 2011.8,1532.4 2012.6,1532.6 2013.4,1532.1 2014.3,1486.9 2015.1,1527.9 2015.9,1526.5 2016.7,1437.7 2017.5,1522.0 2018.3,1527.5 2019.1,1533.2 2020.0,1533.2 2020.8,1489.8 2021.6,1532.8 2022.4,1533.2 2023.2,1529.1 2024.0,1533.2 2024.8,1515.8 2025.6,1533.2 2026.5,1533.2 2027.3,1526.4 2028.1,1533.2 2028.9,1524.7 2029.7,1520.7 2030.5,1414.6 2031.3,1533.2 2032.2,1533.2 2033.0,1533.2 2033.8,1528.5 2034.6,1519.2 2035.4,1492.7 2036.2,1527.8 2037.0,1525.9 2037.8,1508.2 2038.7,1533.2 2039.5,1533.2 2040.3,1533.2 2041.1,1486.9 2041.9,1532.2 2042.7,1532.5 2043.5,1533.2 2044.4,1533.2 2045.2,1533.2 2046.0,1391.4 2046.8,1475.3 2047.6,1529.9 2048.4,1530.7 2049.2,1463.8 2050.1,1420.3 2050.9,1533.2 2051.7,1533.2 2052.5,1385.0 2053.3,1528.0 2054.1,1533.2 2054.9,1533.2"/></g>
<text x="1194.0" y="1506.5" font-size="20.4" text-anchor="end" font-weight="normal">0.0</text>
<text x="1194.0" y="1400.7" font-size="20.4" text-anchor="end" font-weight="normal">0.2</text>
<text x="1194.0" y="1294.8" font-size="20.4" text-anchor="end" font-weight="normal">0.4</text>
<text x="1194.0" y="1189.0" font-size="20.4" text-anchor="end" font-weight="normal">0.6</text>
<text x="1194.0" y="1083.0" font-size="20.4" text-anchor="end" font-weight="normal">0.8</text>
<text x="1190.3" y="977.0" font-size="20.4" text-anchor="end" font-weight="normal">1.0</text>
<text x="1252.0" y="1558.7" font-size="20.4" text-anchor="middle" font-weight="normal">0</text>
<text x="1415.0" y="1558.7" font-size="20.4" text-anchor="middle" font-weight="normal">200</text>
<text x="1577.0" y="1558.7" font-size="20.4" text-anchor="middle" font-weight="normal">400</text>
<text x="1743.0" y="1558.7" font-size="20.4" text-anchor="middle" font-weight="normal">600</text>
<text x="1901.0" y="1558.7" font-size="20.4" text-anchor="middle" font-weight="normal">800</text>
<text x="2061.0" y="1558.7" font-size="20.4" text-anchor="middle" font-weight="normal">1000</text>
<text x="1660.0" y="1577.0" font-size="20.4" text-anchor="middle" font-weight="normal">Tokens</text>
<text transform="translate(1136.5 1236.0) rotate(-90)" font-size="20.3" text-anchor="middle">Normalized Token Importance</text>
<text x="1646.0" y="915.0" font-size="28.5" text-anchor="middle" font-weight="bold">Difference between sequence and predicted lab</text>
</svg>
<div class="hm" style="left:208.5px;top:724.0px;width:813.7px;height:40.8px;background:linear-gradient(90deg,#651410,#b2241b,#c9291f,#8f1d16,#53110d,#4e100c,#4e100c,#3f0d0a,#6e1611,#6f1711,#53110d,#63140f,#841b14,#53110d,#1a0504,#2f0a08,#5f130f,#58120e,#52110d,#290807,#1c0605,#490f0b,#61140f,#841b14,#5c130e,#340b08,#330b08,#310a08,#711711,#57120e,#4b0f0c,#5c130e,#3c0c0a,#450e0b,#250806,#2c0907,#3e0d0a,#781813,#831b14,#5e130f,#60140f,#57120e,#56110d,#360b08,#330a08,#771812,#781813,#851b15,#60130f,#50100d,#751812,#5f130f,#50100d,#4f100c,#460e0b,#350b08,#290807,#470f0b,#51110d,#5e130f,#390c09,#1a0604,#420e0a,#671510,#410d0a,#230706,#190504,#1f0605,#430e0a,#7a1913,#701711,#460e0b,#4b0f0c,#6c1611,#6a1610,#470e0b,#490f0b,#4f100c,#320a08,#1e0605,#460e0b,#57120e,#5d130f,#741812,#430e0b,#270806,#370b09,#5e130f,#691510,#56110d,#4d100c,#490f0b,#390c09,#2e0907,#240706,#3e0d0a,#6d1611,#55110d,#2d0907,#1d0605,#1c0605,#350b08,#330a08,#1c0605,#2d0907,#300a08,#4b0f0c,#480f0b,#51110d,#2c0907,#230706,#370b09,#480f0b,#370b09,#180504,#250806,#260806,#190504,#220706,#450e0b,#230706,#140403,#2d0907,#2b0907,#280806,#370b09,#350b08,#340b08,#3b0c09,#290807,#110403,#0f0303,#120403,#1a0504,#0b0202,#0a0202,#150404,#0a0202,#0c0302,#420d0a,#881c15,#450e0b,#0f0303,#050101,#050101,#080202,#0c0302,#090202,#0b0202,#0a0202,#110403,#0b0202,#150404,#2e0907,#410d0a,#410d0a,#1e0605,#340b08,#56120d,#390c09,#150404,#280806,#3d0d0a,#1c0605,#240706,#2d0907,#170504,#1a0604,#0b0302,#040101,#080202,#140403,#1a0504,#240806,#100303,#140403,#2b0907,#230706,#130403,#1b0604,#110403,#190504,#240706,#2f0a07,#1a0504,#070202,#0c0302,#310a08,#59120e,#3e0d0a,#1c0605,#130403,#220706,#0e0303,#150404,#370b09,#1c0605,#210705,#290807,#160504,#110403,#200705,#0d0302,#040101,#0c0302,#1f0605,#200705,#200705,#0d0302,#060101,#050101,#0a0202,#170504,#100303,#140403,#090202,#060101,#0b0202,#0e0303,#1a0504,#220706,#320a08,#140403,#050101,#060101,#110403,#1a0504,#0c0302,#100303,#1b0605,#0e0302,#0e0302,#210705,#190504,#1f0605,#310a08,#2c0907,#0e0302,#080202,#100303,#0a0202,#100303,#260806,#1b0605,#1b0604,#160504,#240806,#100303,#070201,#36240a,#986a1b,#36240a,#0a0202,#150404,#180504,#200705,#0d0302,#060101,#0f0303,#220706,#300a08,#240806,#100303,#1d0605,#2e0907,#160504,#0a0202,#0f0303,#0e0302,#180504,#1a0504,#3a0c09,#470f0b,#1c0605,#1d0605,#220706,#0c0302,#040101,#0c0302,#1b0605,#0c0302,#040101,#040101,#0b0202,#190504,#120403,#130403,#090202,#0c0302,#1f0705,#1b0605,#170504,#240706,#0e0303,#0c0302,#2b0907,#4a0f0c,#59120e,#3e0d0a,#150403,#0f0303,#080202,#070201,#150404,#1e0605,#0d0302,#110403,#240806,#0f0303,#040101,#040101,#170504,#3f0d0a,#1f0705,#070201,#180504,#400d0a,#180504,#070201,#110403,#170504,#0f0303,#060101,#080202,#433629,#9f9874,#3e3528,#220706,#1c0605,#090202,#060101,#090202,#060101,#060101,#0a0202,#090202,#0c0302,#070201,#040101,#100303,#270806,#100303,#341209,#943418,#341209,#060101,#0f0303,#1e0605,#280806,#1f0705,#430e0b,#3a0c09,#100403,#040101,#040101,#040101,#040101,#040101,#040101,#140403,#480f0b,#4e100c,#170504,#040101,#040101,#040101,#060101,#090202,#060101,#060101,#0a0202,#060101,#0e0302,#210705,#0e0302,#040101,#0a0202,#150403,#0b0202,#0b0302,#100403,#080202,#040101,#040101,#040101,#040101,#100303,#280806,#100303,#040101,#060101,#0b0202,#060101,#040101,#070201,#0d0302,#070201,#140403,#380b09,#2f0a07,#390c09,#190504,#060101,#040101,#040101,#090202,#130403,#0a0202,#060101,#080202,#110403,#150404,#090202,#040101,#060101,#090202,#060101,#040101,#040101,#040101,#130403,#320a08,#130403,#040101,#040101,#040101,#040101,#140403,#340b08,#140403,#060101,#090202,#060101,#040101,#040101,#040101,#040101,#040101,#040101,#180504,#53110d,#5b130e,#340b08,#0e0302,#040101,#050101,#060101,#070201,#0b0202,#060101,#040101,#040101,#040101,#040101,#040101,#0c0302,#1b0604,#0c0302,#040101,#040101,#040101,#040101,#040101,#040101,#060101,#0a0202,#060101,#040101,#040101,#040101,#040101,#040101,#040101,#040101,#040101,#070201,#0c0302,#070201,#040101,#060101,#0a0202,#080202,#060101,#080202,#050101,#040101,#040101,#040101,#040101,#040101,#040101,#050101,#070202,#140403,#2f0a08,#140403,#180504,#310a08,#120403,#080202,#100403,#080202,#040101,#040101,#040101,#040101,#0d0302,#210705,#150404,#070201,#040101,#040101,#040101,#090202,#120403,#090202,#040101,#040101,#040101,#040101,#090202,#1d0605,#260806,#0e0302,#080202,#120403,#100303,#070201,#040101,#040101,#040101,#040101,#040101,#040101,#040101,#070201,#0d0302,#070201,#040101,#0d0302,#200705,#0e0302,#050101,#040101,#040101,#040101,#110403,#370b09,#360b09,#100403,#040101,#040101,#040101,#040101,#040101,#040101,#040101,#040101,#040101,#050101,#080202,#0f0303,#200705,#180504,#230706,#0e0303,#040101,#040101,#050101,#040101,#040101,#040101,#070201,#0c0302,#070201,#040101,#060101,#0b0202,#060101,#040101,#040101,#0a0202,#1d0605,#200705,#180504,#1a0504,#1f0605,#733213,#ad711e,#35250a,#040101,#040101,#040101,#040101,#040101,#040101,#040101,#040101,#040101,#040101,#040101,#040101,#040101,#040101,#040101,#040101,#040101,#040101,#040101,#040101,#040101,#040101,#040101,#040101,#040101,#040101,#040101,#040101,#040101,#040101,#040101,#050101,#060201,#050101,#040101,#040101,#040101,#040101,#040101,#040101,#040101,#040101,#040101,#040101,#040101,#040101,#040101,#040101,#040101,#040101,#040101,#040101,#040101,#040101,#040101,#040101,#040101,#040101,#040101,#040101,#040101,#040101,#040101,#040101,#040101,#040101,#040101,#040101,#040101,#040101,#070201,#0e0302,#070201,#040101,#040101,#040101,#040101,#040101,#070201,#0c0302,#070201,#040101,#040101,#040101,#040101,#040101,#040101,#040101,#050101,#120403,#240806,#0e0303,#040101,#040101,#040101,#190504,#440e0b,#190504,#040101,#040101,#040101,#040101,#040101,#040101,#040101,#040101,#040101,#040101,#040101,#040101,#040101,#040101,#040101,#040101,#050101,#080202,#050101,#040101,#050101,#080202,#050101,#040101,#040101,#040101,#140403,#340b08,#140403,#040101,#040101,#040101,#040101,#040101,#040101,#060101,#0a0202,#060101,#050101,#060101,#050101,#040101,#040101,#040101,#040101,#040101,#040101,#040101,#040101,#040101,#040101,#040101,#040101,#0c0302,#1b0604,#1a0504,#2e0a07,#120403,#040101,#040101,#040101,#040101,#040101,#040101,#040101,#040101,#040101,#040101,#040101,#040101,#040101,#040101,#040101,#040101,#040101,#040101,#040101,#040101,#040101,#040101,#040101,#040101,#040101,#040101,#040101,#040101,#040101,#040101,#050101,#060101,#050101,#040101,#040101,#040101,#040101,#040101,#040101,#040101,#040101,#040101,#040101,#040101,#040101,#040101,#040101,#040101,#040101,#040101,#040101,#040101,#040101,#100303,#270806,#170504,#190504,#0b0202,#040101,#040101,#040101,#040101,#040101,#040101,#040101,#040101,#040101,#040101,#040101,#040101,#040101,#040101,#040101,#362c0a,#9a821c,#362c0a,#040101,#040101,#040101,#0c0302,#1d0605,#0c0302,#35240a,#986a1b,#35240a,#040101,#040101,#040101,#040101,#040101,#040101,#040101,#040101,#040101,#040101,#363430,#9b998f,#363430,#040101,#040101,#040101,#040101,#040101,#040101,#040101,#040101,#040101,#040101,#040101,#040101,#040101,#040101,#040101,#040101,#040101,#040101,#040101,#040101,#040101,#040101,#080202,#100403,#3a3429,#9b9878,#363329,#040101,#040101,#040101,#040101,#36332c,#9b9881,#3e352d,#1b0604,#0c0302,#040101,#040101,#040101,#040101,#040101,#040101,#040101,#352009,#975e1a,#352009,#040101,#040101,#040101,#040101,#040101,#040101,#363323,#9b9668,#363323,#040101,#040101,#040101,#040101,#040101,#040101,#040101,#040101,#040101,#040101,#36332c,#9b9881,#36332c,#363430,#ccba97,#ca974a,#352209,#040101,#040101,#040101,#363329,#9b9878,#363329,#040101,#040101,#040101,#040101,#36321d,#9b9454,#36321d,#040101,#363112,#9b9235,#363112,#040101,#040101,#362b0a,#997f1c,#362b0a,#040101,#040101,#230706,#61140f,#230706,#040101,#0c0302,#1d0605,#0c0302,#341209,#943418,#341209,#040101,#040101,#0c0302,#1b0604,#0c0302,#040101,#040101,#050101,#080202,#050101,#040101,#040101,#040101,#040101,#35240a,#98691b,#35240a,#040101,#040101,#040101,#0b0202,#190504,#0b0202,#040101,#040101,#040101,#040101,#0c0302,#1d0605,#0c0302,#040101,#040101,#040101,#352109,#97611a,#352109,#040101,#040101,#352209,#98631a,#352209,#040101,#040101,#040101,#040101,#040101)"></div>
<div class="hm" style="left:1248.8px;top:725.2px;width:818.2px;height:40.8px;background:linear-gradient(90deg,#8c1c16,#b2281b,#e54324,#f45027,#f34126,#f44826,#e44424,#c02c1e,#c4281e,#a6221a,#a52119,#bb261d,#ba261d,#9b1f18,#ae231b,#d62d21,#d02f20,#992218,#d12d20,#bd271d,#50100d,#6f1711,#ae231b,#b82b1d,#de3d23,#d33021,#ae231b,#b3241c,#c4281e,#d82d21,#ed3624,#e63423,#ba271d,#b1291b,#d83b22,#c92e1f,#a9221a,#8c1c16,#bc2b1d,#d43b21,#932317,#6a1610,#7d1913,#841b14,#61140f,#691510,#791913,#5d130e,#54110d,#59120e,#5e130f,#7f1a14,#731712,#951e17,#931e17,#63140f,#6a1610,#5f130f,#4d100c,#5c130e,#6c1611,#871b15,#831b14,#51100d,#57120d,#7a1913,#741812,#3f0d0a,#6c1611,#711711,#7d1913,#54110d,#3f0d0a,#5a120e,#741712,#771812,#a12119,#6d1611,#240706,#1e0605,#190504,#0c0302,#150404,#220706,#310a08,#3f0d0a,#320a08,#1e0605,#3d0c0a,#63140f,#64140f,#53110d,#59120e,#661510,#751812,#701711,#420e0a,#400d0a,#691510,#781813,#60140f,#430e0b,#7c1913,#3c0c09,#3f0d0a,#3f0d0a,#380b09,#54110d,#911d16,#56120d,#4e100c,#4b0f0c,#430e0b,#410d0a,#300a08,#200705,#3e0d0a,#440e0b,#370b09,#440e0b,#3e0d0a,#1a0504,#200705,#480f0b,#9a1f18,#52110d,#1b0604,#1f0705,#300a08,#360b09,#420e0a,#55110d,#300a08,#240706,#180504,#320a08,#490f0b,#420e0a,#220705,#47140b,#a03119,#54160d,#310a08,#220706,#3f0d0a,#430e0a,#2e0a07,#180504,#1d0605,#270806,#280806,#210705,#1f0705,#2d0907,#360b09,#120403,#040101,#060101,#0a0202,#0f0303,#250806,#240706,#190504,#140403,#200705,#260806,#220706,#180504,#210705,#1a0504,#2a0907,#130403,#090202,#100303,#220705,#200705,#3c0c09,#280806,#3f0d0a,#310a08,#230706,#320a08,#4b0f0c,#340b08,#1a0504,#2e0907,#220706,#130403,#1f0705,#130403,#1b0604,#1c0605,#140403,#1d0605,#120403,#150504,#100303,#1e0605,#3b0c09,#220706,#0c0302,#0e0303,#0c0302,#160504,#1c0605,#1b0604,#170504,#110403,#230706,#2a0907,#120403,#130403,#1f0705,#350b08,#2e0a07,#120403,#100403,#080202,#080202,#170504,#270806,#290807,#120403,#0c0302,#180504,#170504,#1d0605,#1f0605,#270806,#2a0907,#250806,#170504,#210705,#120403,#1e0605,#390c09,#230706,#160504,#320a08,#360b09,#300a08,#200705,#190504,#0e0302,#120403,#2a0907,#120403,#050101,#130403,#613c37,#a99c91,#3a3531,#120403,#200705,#220706,#140403,#1e0605,#100303,#050101,#0c0302,#270806,#360b09,#210705,#190504,#0f0303,#1b0605,#1f0605,#0b0202,#0b0202,#190504,#0b0202,#0a0202,#150404,#0a0202,#060101,#120403,#1c0605,#140403,#220705,#210705,#2c0907,#2b0907,#1d0605,#160504,#090202,#040101,#040101,#0b0202,#1a0504,#0b0202,#040101,#040101,#0e0303,#250806,#1f0705,#380b09,#410d0a,#150404,#110403,#3f0d0a,#490f0b,#1c0605,#160504,#0f0303,#060101,#060101,#0c0302,#100303,#160504,#090202,#080202,#140403,#180504,#1c0605,#0b0302,#050101,#0e0302,#200705,#0f0303,#0a0202,#080202,#110403,#150404,#090202,#340b08,#9b2118,#4d100c,#0c0302,#040101,#0c0302,#240806,#2e0907,#230706,#0c0302,#0d0302,#200705,#0d0302,#040101,#040101,#0b0202,#1d0605,#190504,#41210b,#9f5d1b,#4f240d,#230706,#0d0302,#040101,#0a0202,#160504,#0a0202,#040101,#040101,#090202,#170504,#190504,#090202,#040101,#040101,#040101,#060101,#0b0202,#060101,#040101,#0b0202,#180504,#0e0303,#120403,#110403,#070201,#050101,#060101,#050101,#040101,#040101,#040101,#040101,#040101,#040101,#040101,#040101,#040101,#040101,#040101,#040101,#070201,#100403,#120403,#0f0303,#090202,#050101,#040101,#0e0303,#230706,#110403,#0b0202,#060101,#040101,#070201,#0d0302,#0c0302,#070201,#090202,#120403,#100303,#210705,#270806,#190504,#120403,#140403,#270806,#130403,#0f0303,#080202,#040101,#040101,#040101,#040101,#0a0202,#160504,#0c0302,#050101,#0c0302,#1d0605,#110403,#110403,#080202,#040101,#050101,#120403,#370b09,#3e0d0a,#320a08,#100303,#0b0202,#1c0605,#160504,#080202,#040101,#040101,#040101,#040101,#070201,#0a0202,#060101,#0a0202,#160504,#0a0202,#050101,#080202,#070201,#050101,#040101,#040101,#040101,#080202,#130403,#120403,#170504,#230706,#200705,#170504,#090202,#0d0302,#1e0605,#0d0302,#040101,#040101,#040101,#070201,#0c0302,#070201,#040101,#060101,#0b0202,#060101,#040101,#090202,#110403,#100303,#1b0604,#0c0302,#040101,#050101,#070201,#050101,#040101,#040101,#090202,#130403,#090202,#040101,#050101,#070202,#050101,#040101,#050101,#0b0202,#180504,#0b0202,#040101,#040101,#040101,#050101,#190504,#3b0c09,#160504,#070201,#0d0302,#070201,#040101,#040101,#040101,#040101,#040101,#040101,#040101,#040101,#040101,#040101,#040101,#040101,#040101,#060101,#0b0202,#060101,#070201,#0e0302,#070201,#040101,#040101,#040101,#040101,#040101,#060101,#090202,#060101,#040101,#040101,#040101,#040101,#040101,#040101,#050101,#080202,#050101,#040101,#040101,#060101,#090202,#060101,#040101,#040101,#050101,#070201,#050101,#040101,#040101,#040101,#040101,#040101,#040101,#0a0202,#150404,#0a0202,#070201,#0d0302,#070201,#060101,#090202,#090202,#0f0303,#080202,#040101,#050101,#040101,#040101,#040101,#040101,#040101,#040101,#040101,#040101,#0f0303,#260806,#0f0303,#040101,#363114,#9b9239,#363114,#050101,#060101,#050101,#040101,#040101,#040101,#040101,#040101,#040101,#040101,#040101,#040101,#040101,#040101,#040101,#0c0302,#1c0605,#0f0303,#050101,#040101,#040101,#260806,#8b1c15,#861b15,#470e0b,#8f1d16,#8b1c15,#2f0a07,#210705,#0f0303,#040101,#260806,#691510,#260806,#040101,#040101,#040101,#040101,#040101,#080202,#110403,#080202,#040101,#220706,#5f130f,#3d0c0a,#53110d,#330a08,#450e0b,#210705,#220706,#57120e,#200705,#2c0907,#a32119,#a02019,#51110d,#8e1d16,#6d1611,#1a0504,#060101,#0a0202,#060101,#1a0504,#460e0b,#400d0a,#9b1f18,#9a1f18,#340b08,#250806,#0f0303,#220706,#5f130f,#220706,#120403,#2d0907,#120403,#040101,#040101,#040101,#040101,#040101,#040101,#040101,#040101,#060101,#170504,#2f0a08,#120403,#040101,#040101,#040101,#040101,#1b0604,#480f0b,#1d0605,#0a0202,#060101,#040101,#040101,#040101,#040101,#040101,#050101,#080202,#050101,#040101,#040101,#040101,#040101,#040101,#040101,#040101,#040101,#040101,#040101,#040101,#040101,#040101,#040101,#040101,#040101,#040101,#040101,#040101,#040101,#040101,#080202,#100303,#080202,#040101,#040101,#040101,#040101,#040101,#040101,#040101,#040101,#050101,#0f0303,#200705,#0d0302,#040101,#040101,#050101,#070201,#050101,#040101,#040101,#040101,#040101,#090202,#120403,#090202,#040101,#040101,#040101,#040101,#040101,#050101,#070201,#050101,#040101,#0a0202,#150404,#0a0202,#040101,#040101,#040101,#050101,#070201,#050101,#040101,#040101,#040101,#040101,#040101,#040101,#040101,#040101,#040101,#040101,#0b0202,#180504,#0b0202,#040101,#040101,#040101,#040101,#040101,#040101,#040101,#040101,#040101,#070201,#0c0302,#070201,#040101,#040101,#040101,#040101,#040101,#040101,#040101,#040101,#040101,#070202,#0e0303,#070202,#040101,#060101,#0b0202,#060101,#040101,#040101,#040101,#040101,#040101,#040101,#040101,#040101,#060101,#090202,#060101,#040101,#040101,#040101,#040101,#040101,#250806,#671510,#250806,#050101,#080202,#050101,#040101,#040101,#040101,#363215,#9b933e,#363215,#040101,#040101,#040101,#060101,#0a0202,#060101,#040101,#040101,#040101,#040101,#340d08,#932617,#340d08,#040101,#040101,#040101,#0c0302,#1c0605,#0c0302,#040101,#040101,#040101,#040101,#040101,#040101,#040101,#040101,#040101,#040101,#040101,#040101,#040101,#050101,#060101,#050101,#040101,#050101,#320a08,#8a1c15,#380b09,#0b0202,#060101,#040101,#040101,#340c08,#932117,#380c09,#130403,#120403,#080202,#040101,#040101,#040101,#050101,#040101,#040101,#1e0605,#53110d,#1e0605,#040101,#040101,#040101,#040101,#040101,#040101,#363322,#9b9664,#363322,#040101,#040101,#040101,#040101,#040101,#040101,#040101,#040101,#040101,#340c08,#962117,#6c1911,#9c2718,#741c12,#a12719,#4d120c,#0c0302,#040101,#040101,#040101,#340c08,#932217,#340c08,#040101,#040101,#040101,#040101,#330a08,#911d16,#330a08,#040101,#2a0907,#761812,#2a0907,#040101,#040101,#363219,#9b9449,#363219,#040101,#080202,#160504,#1c0605,#0b0202,#040101,#040101,#040101,#040101,#352309,#98661a,#352309,#040101,#040101,#040101,#040101,#040101,#040101,#040101,#040101,#040101,#040101,#040101,#040101,#040101,#050101,#383216,#9b933e,#363215,#040101,#040101,#050101,#060101,#050101,#040101,#070201,#0e0302,#070201,#040101,#040101,#040101,#040101,#040101,#040101,#040101,#363218,#cdc356,#cdc34b,#363112,#362c0a,#ccb22c,#ccbc39,#363111,#250806,#671510,#250806,#040101,#040101)"></div>
<div class="hm" style="left:191.8px;top:1607.0px;width:817.0px;height:41.0px;background:linear-gradient(90deg,#8c1c16,#b2281b,#e54324,#f45027,#f34126,#f44826,#e44424,#c02c1e,#c4281e,#a6221a,#a52119,#bb261d,#ba261d,#9b1f18,#ae231b,#d62d21,#d02f20,#992218,#d12d20,#bd271d,#50100d,#6f1711,#ae231b,#b82b1d,#de3d23,#d33021,#ae231b,#b3241c,#c4281e,#d82d21,#ed3624,#e63423,#ba271d,#b1291b,#d83b22,#c92e1f,#a9221a,#8c1c16,#bc2b1d,#d43b21,#932317,#6a1610,#7d1913,#841b14,#61140f,#691510,#791913,#5d130e,#54110d,#59120e,#5e130f,#7f1a14,#731712,#951e17,#931e17,#63140f,#6a1610,#5f130f,#4d100c,#5c130e,#6c1611,#871b15,#831b14,#51100d,#57120d,#7a1913,#741812,#3f0d0a,#6c1611,#711711,#7d1913,#54110d,#3f0d0a,#5a120e,#741712,#771812,#a12119,#6d1611,#240706,#1e0605,#190504,#0c0302,#150404,#220706,#310a08,#3f0d0a,#320a08,#1e0605,#3d0c0a,#63140f,#64140f,#53110d,#59120e,#661510,#751812,#701711,#420e0a,#400d0a,#691510,#781813,#60140f,#430e0b,#7c1913,#3c0c09,#3f0d0a,#3f0d0a,#380b09,#54110d,#911d16,#56120d,#4e100c,#4b0f0c,#430e0b,#410d0a,#300a08,#200705,#3e0d0a,#440e0b,#370b09,#440e0b,#3e0d0a,#1a0504,#200705,#480f0b,#9a1f18,#52110d,#1b0604,#1f0705,#300a08,#360b09,#420e0a,#55110d,#300a08,#240706,#180504,#320a08,#490f0b,#420e0a,#220705,#47140b,#a03119,#54160d,#310a08,#220706,#3f0d0a,#430e0a,#2e0a07,#180504,#1d0605,#270806,#280806,#210705,#1f0705,#2d0907,#360b09,#120403,#040101,#060101,#0a0202,#0f0303,#250806,#240706,#190504,#140403,#200705,#260806,#220706,#180504,#210705,#1a0504,#2a0907,#130403,#090202,#100303,#220705,#200705,#3c0c09,#280806,#3f0d0a,#310a08,#230706,#320a08,#4b0f0c,#340b08,#1a0504,#2e0907,#220706,#130403,#1f0705,#130403,#1b0604,#1c0605,#140403,#1d0605,#120403,#150504,#100303,#1e0605,#3b0c09,#220706,#0c0302,#0e0303,#0c0302,#160504,#1c0605,#1b0604,#170504,#110403,#230706,#2a0907,#120403,#130403,#1f0705,#350b08,#2e0a07,#120403,#100403,#080202,#080202,#170504,#270806,#290807,#120403,#0c0302,#180504,#170504,#1d0605,#1f0605,#270806,#2a0907,#250806,#170504,#210705,#120403,#1e0605,#390c09,#230706,#160504,#320a08,#360b09,#300a08,#200705,#190504,#0e0302,#120403,#2a0907,#120403,#050101,#130403,#613c37,#a99c91,#3a3531,#120403,#200705,#220706,#140403,#1e0605,#100303,#050101,#0c0302,#270806,#360b09,#210705,#190504,#0f0303,#1b0605,#1f0605,#0b0202,#0b0202,#190504,#0b0202,#0a0202,#150404,#0a0202,#060101,#120403,#1c0605,#140403,#220705,#210705,#2c0907,#2b0907,#1d0605,#160504,#090202,#040101,#040101,#0b0202,#1a0504,#0b0202,#040101,#040101,#0e0303,#250806,#1f0705,#380b09,#410d0a,#150404,#110403,#3f0d0a,#490f0b,#1c0605,#160504,#0f0303,#060101,#060101,#0c0302,#100303,#160504,#090202,#080202,#140403,#180504,#1c0605,#0b0302,#050101,#0e0302,#200705,#0f0303,#0a0202,#080202,#110403,#150404,#090202,#340b08,#9b2118,#4d100c,#0c0302,#040101,#0c0302,#240806,#2e0907,#230706,#0c0302,#0d0302,#200705,#0d0302,#040101,#040101,#0b0202,#1d0605,#190504,#41210b,#9f5d1b,#4f240d,#230706,#0d0302,#040101,#0a0202,#160504,#0a0202,#040101,#040101,#090202,#170504,#190504,#090202,#040101,#040101,#040101,#060101,#0b0202,#060101,#040101,#0b0202,#180504,#0e0303,#120403,#110403,#070201,#050101,#060101,#050101,#040101,#040101,#040101,#040101,#040101,#040101,#040101,#040101,#040101,#040101,#040101,#040101,#070201,#100403,#120403,#0f0303,#090202,#050101,#040101,#0e0303,#230706,#110403,#0b0202,#060101,#040101,#070201,#0d0302,#0c0302,#070201,#090202,#120403,#100303,#210705,#270806,#190504,#120403,#140403,#270806,#130403,#0f0303,#080202,#040101,#040101,#040101,#040101,#0a0202,#160504,#0c0302,#050101,#0c0302,#1d0605,#110403,#110403,#080202,#040101,#050101,#120403,#370b09,#3e0d0a,#320a08,#100303,#0b0202,#1c0605,#160504,#080202,#040101,#040101,#040101,#040101,#070201,#0a0202,#060101,#0a0202,#160504,#0a0202,#050101,#080202,#070201,#050101,#040101,#040101,#040101,#080202,#130403,#120403,#170504,#230706,#200705,#170504,#090202,#0d0302,#1e0605,#0d0302,#040101,#040101,#040101,#070201,#0c0302,#070201,#040101,#060101,#0b0202,#060101,#040101,#090202,#110403,#100303,#1b0604,#0c0302,#040101,#050101,#070201,#050101,#040101,#040101,#090202,#130403,#090202,#040101,#050101,#070202,#050101,#040101,#050101,#0b0202,#180504,#0b0202,#040101,#040101,#040101,#050101,#190504,#3b0c09,#160504,#070201,#0d0302,#070201,#040101,#040101,#040101,#040101,#040101,#040101,#040101,#040101,#040101,#040101,#040101,#040101,#040101,#060101,#0b0202,#060101,#070201,#0e0302,#070201,#040101,#040101,#040101,#040101,#040101,#060101,#090202,#060101,#040101,#040101,#040101,#040101,#040101,#040101,#050101,#080202,#050101,#040101,#040101,#060101,#090202,#060101,#040101,#040101,#050101,#070201,#050101,#040101,#040101,#040101,#040101,#040101,#040101,#0a0202,#150404,#0a0202,#070201,#0d0302,#070201,#060101,#090202,#090202,#0f0303,#080202,#040101,#050101,#040101,#040101,#040101,#040101,#040101,#040101,#040101,#040101,#0f0303,#260806,#0f0303,#040101,#363114,#9b9239,#363114,#050101,#060101,#050101,#040101,#040101,#040101,#040101,#040101,#040101,#040101,#040101,#040101,#040101,#040101,#040101,#0c0302,#1c0605,#0f0303,#050101,#040101,#040101,#260806,#8b1c15,#861b15,#470e0b,#8f1d16,#8b1c15,#2f0a07,#210705,#0f0303,#040101,#260806,#691510,#260806,#040101,#040101,#040101,#040101,#040101,#080202,#110403,#080202,#040101,#220706,#5f130f,#3d0c0a,#53110d,#330a08,#450e0b,#210705,#220706,#57120e,#200705,#2c0907,#a32119,#a02019,#51110d,#8e1d16,#6d1611,#1a0504,#060101,#0a0202,#060101,#1a0504,#460e0b,#400d0a,#9b1f18,#9a1f18,#340b08,#250806,#0f0303,#220706,#5f130f,#220706,#120403,#2d0907,#120403,#040101,#040101,#040101,#040101,#040101,#040101,#040101,#040101,#060101,#170504,#2f0a08,#120403,#040101,#040101,#040101,#040101,#1b0604,#480f0b,#1d0605,#0a0202,#060101,#040101,#040101,#040101,#040101,#040101,#050101,#080202,#050101,#040101,#040101,#040101,#040101,#040101,#040101,#040101,#040101,#040101,#040101,#040101,#040101,#040101,#040101,#040101,#040101,#040101,#040101,#040101,#040101,#040101,#080202,#100303,#080202,#040101,#040101,#040101,#040101,#040101,#040101,#040101,#040101,#050101,#0f0303,#200705,#0d0302,#040101,#040101,#050101,#070201,#050101,#040101,#040101,#040101,#040101,#090202,#120403,#090202,#040101,#040101,#040101,#040101,#040101,#050101,#070201,#050101,#040101,#0a0202,#150404,#0a0202,#040101,#040101,#040101,#050101,#070201,#050101,#040101,#040101,#040101,#040101,#040101,#040101,#040101,#040101,#040101,#040101,#0b0202,#180504,#0b0202,#040101,#040101,#040101,#040101,#040101,#040101,#040101,#040101,#040101,#070201,#0c0302,#070201,#040101,#040101,#040101,#040101,#040101,#040101,#040101,#040101,#040101,#070202,#0e0303,#070202,#040101,#060101,#0b0202,#060101,#040101,#040101,#040101,#040101,#040101,#040101,#040101,#040101,#060101,#090202,#060101,#040101,#040101,#040101,#040101,#040101,#250806,#671510,#250806,#050101,#080202,#050101,#040101,#040101,#040101,#363215,#9b933e,#363215,#040101,#040101,#040101,#060101,#0a0202,#060101,#040101,#040101,#040101,#040101,#340d08,#932617,#340d08,#040101,#040101,#040101,#0c0302,#1c0605,#0c0302,#040101,#040101,#040101,#040101,#040101,#040101,#040101,#040101,#040101,#040101,#040101,#040101,#040101,#050101,#060101,#050101,#040101,#050101,#320a08,#8a1c15,#380b09,#0b0202,#060101,#040101,#040101,#340c08,#932117,#380c09,#130403,#120403,#080202,#040101,#040101,#040101,#050101,#040101,#040101,#1e0605,#53110d,#1e0605,#040101,#040101,#040101,#040101,#040101,#040101,#363322,#9b9664,#363322,#040101,#040101,#040101,#040101,#040101,#040101,#040101,#040101,#040101,#340c08,#962117,#6c1911,#9c2718,#741c12,#a12719,#4d120c,#0c0302,#040101,#040101,#040101,#340c08,#932217,#340c08,#040101,#040101,#040101,#040101,#330a08,#911d16,#330a08,#040101,#2a0907,#761812,#2a0907,#040101,#040101,#363219,#9b9449,#363219,#040101,#080202,#160504,#1c0605,#0b0202,#040101,#040101,#040101,#040101,#352309,#98661a,#352309,#040101,#040101,#040101,#040101,#040101,#040101,#040101,#040101,#040101,#040101,#040101,#040101,#040101,#050101,#383216,#9b933e,#363215,#040101,#040101,#050101,#060101,#050101,#040101,#070201,#0e0302,#070201,#040101,#040101,#040101,#040101,#040101,#040101,#040101,#363218,#cdc356,#cdc34b,#363112,#362c0a,#ccb22c,#ccbc39,#363111,#250806,#671510,#250806,#040101,#040101)"></div>
<div class="hm" style="left:191.8px;top:1660.8px;width:817.0px;height:41.0px;background:linear-gradient(90deg,#651410,#b2241b,#c9291f,#8f1d16,#53110d,#4e100c,#4e100c,#3f0d0a,#6e1611,#6f1711,#53110d,#63140f,#841b14,#53110d,#1a0504,#2f0a08,#5f130f,#58120e,#52110d,#290807,#1c0605,#490f0b,#61140f,#841b14,#5c130e,#340b08,#330b08,#310a08,#711711,#57120e,#4b0f0c,#5c130e,#3c0c0a,#450e0b,#250806,#2c0907,#3e0d0a,#781813,#831b14,#5e130f,#60140f,#57120e,#56110d,#360b08,#330a08,#771812,#781813,#851b15,#60130f,#50100d,#751812,#5f130f,#50100d,#4f100c,#460e0b,#350b08,#290807,#470f0b,#51110d,#5e130f,#390c09,#1a0604,#420e0a,#671510,#410d0a,#230706,#190504,#1f0605,#430e0a,#7a1913,#701711,#460e0b,#4b0f0c,#6c1611,#6a1610,#470e0b,#490f0b,#4f100c,#320a08,#1e0605,#460e0b,#57120e,#5d130f,#741812,#430e0b,#270806,#370b09,#5e130f,#691510,#56110d,#4d100c,#490f0b,#390c09,#2e0907,#240706,#3e0d0a,#6d1611,#55110d,#2d0907,#1d0605,#1c0605,#350b08,#330a08,#1c0605,#2d0907,#300a08,#4b0f0c,#480f0b,#51110d,#2c0907,#230706,#370b09,#480f0b,#370b09,#180504,#250806,#260806,#190504,#220706,#450e0b,#230706,#140403,#2d0907,#2b0907,#280806,#370b09,#350b08,#340b08,#3b0c09,#290807,#110403,#0f0303,#120403,#1a0504,#0b0202,#0a0202,#150404,#0a0202,#0c0302,#420d0a,#881c15,#450e0b,#0f0303,#050101,#050101,#080202,#0c0302,#090202,#0b0202,#0a0202,#110403,#0b0202,#150404,#2e0907,#410d0a,#410d0a,#1e0605,#340b08,#56120d,#390c09,#150404,#280806,#3d0d0a,#1c0605,#240706,#2d0907,#170504,#1a0604,#0b0302,#040101,#080202,#140403,#1a0504,#240806,#100303,#140403,#2b0907,#230706,#130403,#1b0604,#110403,#190504,#240706,#2f0a07,#1a0504,#070202,#0c0302,#310a08,#59120e,#3e0d0a,#1c0605,#130403,#220706,#0e0303,#150404,#370b09,#1c0605,#210705,#290807,#160504,#110403,#200705,#0d0302,#040101,#0c0302,#1f0605,#200705,#200705,#0d0302,#060101,#050101,#0a0202,#170504,#100303,#140403,#090202,#060101,#0b0202,#0e0303,#1a0504,#220706,#320a08,#140403,#050101,#060101,#110403,#1a0504,#0c0302,#100303,#1b0605,#0e0302,#0e0302,#210705,#190504,#1f0605,#310a08,#2c0907,#0e0302,#080202,#100303,#0a0202,#100303,#260806,#1b0605,#1b0604,#160504,#240806,#100303,#070201,#36240a,#986a1b,#36240a,#0a0202,#150404,#180504,#200705,#0d0302,#060101,#0f0303,#220706,#300a08,#240806,#100303,#1d0605,#2e0907,#160504,#0a0202,#0f0303,#0e0302,#180504,#1a0504,#3a0c09,#470f0b,#1c0605,#1d0605,#220706,#0c0302,#040101,#0c0302,#1b0605,#0c0302,#040101,#040101,#0b0202,#190504,#120403,#130403,#090202,#0c0302,#1f0705,#1b0605,#170504,#240706,#0e0303,#0c0302,#2b0907,#4a0f0c,#59120e,#3e0d0a,#150403,#0f0303,#080202,#070201,#150404,#1e0605,#0d0302,#110403,#240806,#0f0303,#040101,#040101,#170504,#3f0d0a,#1f0705,#070201,#180504,#400d0a,#180504,#070201,#110403,#170504,#0f0303,#060101,#080202,#433629,#9f9874,#3e3528,#220706,#1c0605,#090202,#060101,#090202,#060101,#060101,#0a0202,#090202,#0c0302,#070201,#040101,#100303,#270806,#100303,#341209,#943418,#341209,#060101,#0f0303,#1e0605,#280806,#1f0705,#430e0b,#3a0c09,#100403,#040101,#040101,#040101,#040101,#040101,#040101,#140403,#480f0b,#4e100c,#170504,#040101,#040101,#040101,#060101,#090202,#060101,#060101,#0a0202,#060101,#0e0302,#210705,#0e0302,#040101,#0a0202,#150403,#0b0202,#0b0302,#100403,#080202,#040101,#040101,#040101,#040101,#100303,#280806,#100303,#040101,#060101,#0b0202,#060101,#040101,#070201,#0d0302,#070201,#140403,#380b09,#2f0a07,#390c09,#190504,#060101,#040101,#040101,#090202,#130403,#0a0202,#060101,#080202,#110403,#150404,#090202,#040101,#060101,#090202,#060101,#040101,#040101,#040101,#130403,#320a08,#130403,#040101,#040101,#040101,#040101,#140403,#340b08,#140403,#060101,#090202,#060101,#040101,#040101,#040101,#040101,#040101,#040101,#180504,#53110d,#5b130e,#340b08,#0e0302,#040101,#050101,#060101,#070201,#0b0202,#060101,#040101,#040101,#040101,#040101,#040101,#0c0302,#1b0604,#0c0302,#040101,#040101,#040101,#040101,#040101,#040101,#060101,#0a0202,#060101,#040101,#040101,#040101,#040101,#040101,#040101,#040101,#040101,#070201,#0c0302,#070201,#040101,#060101,#0a0202,#080202,#060101,#080202,#050101,#040101,#040101,#040101,#040101,#040101,#040101,#050101,#070202,#140403,#2f0a08,#140403,#180504,#310a08,#120403,#080202,#100403,#080202,#040101,#040101,#040101,#040101,#0d0302,#210705,#150404,#070201,#040101,#040101,#040101,#090202,#120403,#090202,#040101,#040101,#040101,#040101,#090202,#1d0605,#260806,#0e0302,#080202,#120403,#100303,#070201,#040101,#040101,#040101,#040101,#040101,#040101,#040101,#070201,#0d0302,#070201,#040101,#0d0302,#200705,#0e0302,#050101,#040101,#040101,#040101,#110403,#370b09,#360b09,#100403,#040101,#040101,#040101,#040101,#040101,#040101,#040101,#040101,#040101,#050101,#080202,#0f0303,#200705,#180504,#230706,#0e0303,#040101,#040101,#050101,#040101,#040101,#040101,#070201,#0c0302,#070201,#040101,#060101,#0b0202,#060101,#040101,#040101,#0a0202,#1d0605,#200705,#180504,#1a0504,#1f0605,#733213,#ad711e,#35250a,#040101,#040101,#040101,#040101,#040101,#040101,#040101,#040101,#040101,#040101,#040101,#040101,#040101,#040101,#040101,#040101,#040101,#040101,#040101,#040101,#040101,#040101,#040101,#040101,#040101,#040101,#040101,#040101,#040101,#040101,#040101,#050101,#060201,#050101,#040101,#040101,#040101,#040101,#040101,#040101,#040101,#040101,#040101,#040101,#040101,#040101,#040101,#040101,#040101,#040101,#040101,#040101,#040101,#040101,#040101,#040101,#040101,#040101,#040101,#040101,#040101,#040101,#040101,#040101,#040101,#040101,#040101,#040101,#040101,#040101,#070201,#0e0302,#070201,#040101,#040101,#040101,#040101,#040101,#070201,#0c0302,#070201,#040101,#040101,#040101,#040101,#040101,#040101,#040101,#050101,#120403,#240806,#0e0303,#040101,#040101,#040101,#190504,#440e0b,#190504,#040101,#040101,#040101,#040101,#040101,#040101,#040101,#040101,#040101,#040101,#040101,#040101,#040101,#040101,#040101,#040101,#050101,#080202,#050101,#040101,#050101,#080202,#050101,#040101,#040101,#040101,#140403,#340b08,#140403,#040101,#040101,#040101,#040101,#040101,#040101,#060101,#0a0202,#060101,#050101,#060101,#050101,#040101,#040101,#040101,#040101,#040101,#040101,#040101,#040101,#040101,#040101,#040101,#040101,#0c0302,#1b0604,#1a0504,#2e0a07,#120403,#040101,#040101,#040101,#040101,#040101,#040101,#040101,#040101,#040101,#040101,#040101,#040101,#040101,#040101,#040101,#040101,#040101,#040101,#040101,#040101,#040101,#040101,#040101,#040101,#040101,#040101,#040101,#040101,#040101,#040101,#050101,#060101,#050101,#040101,#040101,#040101,#040101,#040101,#040101,#040101,#040101,#040101,#040101,#040101,#040101,#040101,#040101,#040101,#040101,#040101,#040101,#040101,#040101,#100303,#270806,#170504,#190504,#0b0202,#040101,#040101,#040101,#040101,#040101,#040101,#040101,#040101,#040101,#040101,#040101,#040101,#040101,#040101,#040101,#362c0a,#9a821c,#362c0a,#040101,#040101,#040101,#0c0302,#1d0605,#0c0302,#35240a,#986a1b,#35240a,#040101,#040101,#040101,#040101,#040101,#040101,#040101,#040101,#040101,#040101,#363430,#9b998f,#363430,#040101,#040101,#040101,#040101,#040101,#040101,#040101,#040101,#040101,#040101,#040101,#040101,#040101,#040101,#040101,#040101,#040101,#040101,#040101,#040101,#040101,#040101,#080202,#100403,#3a3429,#9b9878,#363329,#040101,#040101,#040101,#040101,#36332c,#9b9881,#3e352d,#1b0604,#0c0302,#040101,#040101,#040101,#040101,#040101,#040101,#040101,#352009,#975e1a,#352009,#040101,#040101,#040101,#040101,#040101,#040101,#363323,#9b9668,#363323,#040101,#040101,#040101,#040101,#040101,#040101,#040101,#040101,#040101,#040101,#36332c,#9b9881,#36332c,#363430,#ccba97,#ca974a,#352209,#040101,#040101,#040101,#363329,#9b9878,#363329,#040101,#040101,#040101,#040101,#36321d,#9b9454,#36321d,#040101,#363112,#9b9235,#363112,#040101,#040101,#362b0a,#997f1c,#362b0a,#040101,#040101,#230706,#61140f,#230706,#040101,#0c0302,#1d0605,#0c0302,#341209,#943418,#341209,#040101,#040101,#0c0302,#1b0604,#0c0302,#040101,#040101,#050101,#080202,#050101,#040101,#040101,#040101,#040101,#35240a,#98691b,#35240a,#040101,#040101,#040101,#0b0202,#190504,#0b0202,#040101,#040101,#040101,#040101,#0c0302,#1d0605,#0c0302,#040101,#040101,#040101,#352109,#97611a,#352109,#040101,#040101,#352209,#98631a,#352209,#040101,#040101,#040101,#040101,#040101)"></div>
<div class="hm" style="left:1244.5px;top:1607.3px;width:814.3px;height:40.7px;background:linear-gradient(90deg,#56120d,#260806,#380b09,#811a14,#981f17,#981f17,#921e16,#791913,#4c100c,#2e0907,#490f0b,#4f100c,#2d0907,#3d0d0a,#841b14,#921e17,#6a1610,#3a0c09,#721712,#781813,#2b0907,#1f0605,#651510,#901d16,#951e17,#871b15,#691510,#6e1611,#460e0b,#711712,#891c15,#7e1a14,#761812,#56110d,#841b14,#871b15,#6e1611,#4c100c,#8f1d16,#7c1913,#240806,#090202,#1d0605,#450e0b,#3c0c09,#300a08,#2f0a07,#330a08,#170504,#220706,#3d0d0a,#370b09,#1e0605,#3d0d0a,#450e0b,#280806,#3b0c09,#160504,#050101,#0c0302,#310a08,#671510,#57120e,#3c0c0a,#2b0907,#4d100c,#5d130f,#390c09,#430e0b,#350b08,#1b0605,#0b0202,#090202,#0e0303,#0c0302,#260806,#4f100c,#250806,#1c0605,#240806,#340b08,#440e0b,#400d0a,#4b0f0c,#1e0605,#110403,#190504,#3c0c09,#2d0907,#180504,#110403,#0c0302,#1a0504,#2f0a08,#480f0b,#4b0f0c,#410d0a,#2b0907,#3f0d0a,#51100d,#54110d,#52110d,#5c130e,#1f0605,#0b0202,#170504,#190504,#1b0605,#390c09,#200705,#200705,#110403,#070201,#0e0302,#240806,#1f0605,#1c0605,#210705,#180504,#190504,#200705,#0d0302,#070201,#290907,#711712,#2b0907,#0d0302,#070201,#040101,#080202,#1e0605,#2f0a08,#110403,#040101,#0c0302,#200705,#240706,#2c0907,#150404,#100403,#230706,#150404,#180504,#170504,#2d0907,#270806,#130403,#070201,#090202,#140403,#0d0302,#100303,#080202,#040101,#110403,#2a0907,#170504,#250806,#380b09,#2f0a08,#200705,#120403,#1b0605,#0e0302,#060101,#0c0302,#150504,#160504,#1b0604,#140403,#240706,#170504,#0e0302,#1f0705,#220705,#130403,#170504,#240806,#300a08,#130403,#0a0202,#0e0302,#1b0604,#0e0302,#140403,#250806,#200705,#210705,#280806,#230706,#100303,#150504,#1d0605,#1b0604,#110403,#180504,#0b0302,#070202,#0c0302,#070201,#060101,#0a0202,#090202,#0e0303,#0c0302,#060101,#070201,#100303,#160504,#160504,#090202,#050101,#0b0202,#190504,#0e0303,#080202,#0c0302,#0a0202,#050101,#050101,#070201,#080202,#050101,#080202,#110403,#080202,#070201,#0f0303,#0e0302,#090202,#0e0302,#070201,#040101,#040101,#050101,#070202,#080202,#0d0302,#1f0705,#160504,#160504,#130403,#0c0302,#0a0202,#190504,#290907,#1e0605,#090202,#0f0303,#54130d,#9e2418,#340c08,#040101,#060101,#100303,#1e0605,#1a0504,#0a0202,#060101,#0a0202,#080202,#0c0302,#0c0302,#0f0303,#1e0605,#110403,#140403,#100303,#060101,#050101,#0c0302,#1f0605,#210705,#0e0302,#0c0302,#100403,#150404,#0f0303,#170504,#120403,#1e0605,#200705,#130403,#0e0303,#140403,#0c0302,#0e0302,#0c0302,#190504,#1b0604,#0e0303,#0e0303,#230706,#220706,#0c0302,#040101,#130403,#3a0c09,#3a0c09,#350b08,#2a0907,#110403,#0f0303,#0d0302,#140403,#090202,#080202,#150404,#140403,#080202,#070201,#170504,#250806,#100303,#050101,#140403,#3a0c09,#280806,#0b0202,#070202,#0e0303,#0b0202,#0e0303,#090202,#39200a,#9e5d1b,#4d240d,#1e0605,#150404,#0d0302,#150404,#170504,#170504,#090202,#0b0202,#1b0604,#0f0303,#050101,#040101,#050101,#090202,#0e0302,#170504,#2c0907,#220706,#1b0604,#0d0302,#130403,#220706,#250806,#380c09,#2d0907,#0d0302,#060101,#0c0302,#0c0302,#060101,#040101,#040101,#0f0303,#300a08,#300a08,#0f0303,#040101,#090202,#120403,#090202,#060101,#0a0202,#070201,#070201,#050101,#0a0202,#170504,#0a0202,#040101,#070202,#0e0303,#070202,#060101,#0b0202,#060101,#040101,#040101,#040101,#060101,#0f0303,#140403,#090202,#040101,#040101,#040101,#0c0302,#1b0605,#0c0302,#040101,#040101,#100303,#290807,#190504,#1e0605,#0d0302,#050101,#080202,#0b0202,#130403,#0b0202,#090202,#060101,#080202,#120403,#0f0303,#0d0302,#060101,#050101,#060201,#050101,#040101,#080202,#100303,#120403,#210705,#140403,#170504,#0d0302,#0d0302,#070201,#0e0302,#210705,#180504,#270806,#250806,#230706,#0d0302,#090202,#130403,#0b0202,#050101,#040101,#130403,#410d0a,#450e0b,#220706,#0c0302,#050101,#060101,#090202,#070201,#080202,#060101,#040101,#040101,#040101,#040101,#040101,#040101,#050101,#0a0202,#100403,#1a0504,#180504,#110403,#070201,#080202,#120403,#0c0302,#050101,#040101,#040101,#040101,#050101,#040101,#040101,#050101,#080202,#070201,#080202,#080202,#0c0302,#080202,#0a0202,#060101,#040101,#050101,#050101,#040101,#040101,#040101,#070202,#0e0303,#070202,#040101,#040101,#100303,#250806,#0f0303,#0d0302,#230706,#1b0604,#0b0202,#0a0202,#060101,#040101,#040101,#120403,#2d0907,#180504,#170504,#0a0202,#040101,#040101,#040101,#040101,#070201,#0d0302,#070201,#040101,#040101,#040101,#040101,#080202,#160504,#1d0605,#0c0302,#0a0202,#0e0303,#0e0302,#0c0302,#060101,#040101,#040101,#040101,#040101,#040101,#050101,#080202,#0a0202,#060101,#040101,#0b0202,#190504,#0b0202,#040101,#050101,#060101,#050101,#0e0302,#290807,#250806,#0e0303,#050101,#040101,#040101,#040101,#040101,#040101,#040101,#040101,#040101,#040101,#050101,#0b0202,#1d0605,#1e0605,#1f0605,#0c0302,#040101,#040101,#040101,#040101,#050101,#060101,#060101,#070201,#050101,#040101,#040101,#040101,#040101,#040101,#040101,#080202,#150504,#190504,#1a0504,#150504,#1d0605,#58120e,#5b130e,#1a0504,#050101,#060101,#050101,#040101,#040101,#040101,#040101,#040101,#040101,#040101,#040101,#040101,#040101,#040101,#040101,#0c0302,#1c0605,#0f0303,#050101,#040101,#040101,#260806,#8b1c15,#861b15,#470e0b,#8f1d16,#8b1c15,#2f0a07,#210705,#0f0303,#040101,#220706,#5f130f,#220706,#040101,#040101,#040101,#040101,#040101,#080202,#110403,#080202,#040101,#220706,#5f130f,#3d0c0a,#53110d,#330a08,#450e0b,#210705,#220706,#57120e,#200705,#2c0907,#a32119,#a02019,#51110d,#8e1d16,#6d1611,#1a0504,#060101,#0a0202,#060101,#1a0504,#460e0b,#400d0a,#9b1f18,#9a1f18,#340b08,#250806,#120403,#290807,#5a120e,#200705,#120403,#2d0907,#120403,#040101,#060101,#0a0202,#060101,#040101,#040101,#040101,#040101,#040101,#130403,#2e0907,#120403,#0e0303,#230706,#0e0303,#040101,#1b0604,#480f0b,#2b0907,#360b09,#150404,#040101,#040101,#040101,#040101,#040101,#040101,#040101,#040101,#040101,#040101,#040101,#040101,#040101,#040101,#040101,#040101,#040101,#040101,#040101,#040101,#040101,#040101,#040101,#040101,#040101,#040101,#140403,#340b08,#140403,#060101,#0a0202,#060101,#040101,#040101,#040101,#040101,#040101,#040101,#040101,#040101,#040101,#080202,#0f0303,#080202,#040101,#040101,#040101,#040101,#040101,#040101,#040101,#040101,#040101,#040101,#040101,#120403,#2e0a07,#120403,#040101,#040101,#040101,#040101,#040101,#040101,#040101,#070201,#0d0302,#070201,#040101,#040101,#040101,#040101,#040101,#040101,#040101,#040101,#040101,#040101,#040101,#040101,#040101,#040101,#040101,#040101,#080202,#0f0303,#080202,#040101,#040101,#040101,#040101,#040101,#040101,#040101,#040101,#040101,#050101,#070201,#050101,#040101,#040101,#040101,#040101,#040101,#040101,#040101,#040101,#040101,#060101,#090202,#060101,#0e0303,#230706,#140403,#110403,#080202,#040101,#040101,#040101,#040101,#040101,#040101,#040101,#040101,#050101,#040101,#040101,#040101,#040101,#040101,#040101,#341209,#943518,#341209,#050101,#080202,#050101,#0c0302,#1d0605,#0c0302,#1d0605,#4f100c,#1d0605,#040101,#040101,#040101,#060101,#0a0202,#060101,#040101,#040101,#040101,#040101,#352309,#98671a,#352309,#040101,#040101,#040101,#0c0302,#1c0605,#0c0302,#040101,#040101,#040101,#040101,#040101,#040101,#040101,#040101,#040101,#040101,#040101,#040101,#040101,#050101,#060101,#050101,#070201,#0e0303,#3b250a,#9b691b,#3e250b,#0b0202,#060101,#040101,#040101,#352209,#98631a,#36220a,#0a0202,#100303,#080202,#040101,#040101,#040101,#050101,#040101,#040101,#340b08,#931f17,#340b08,#040101,#040101,#040101,#040101,#040101,#040101,#351b09,#964f19,#351b09,#040101,#040101,#040101,#040101,#040101,#040101,#040101,#040101,#040101,#080202,#42260b,#bc6e20,#bb3e1e,#c94120,#d77524,#803315,#1d0605,#040101,#040101,#040101,#351f09,#975b1a,#351f09,#040101,#040101,#040101,#040101,#351909,#964919,#351909,#040101,#351909,#964819,#351909,#040101,#040101,#170504,#3c0c09,#170504,#040101,#070201,#230706,#470f0b,#190504,#040101,#0c0302,#1d0605,#0c0302,#180504,#400d0a,#180504,#040101,#040101,#0c0302,#1b0604,#0c0302,#040101,#040101,#050101,#080202,#050101,#040101,#040101,#040101,#040101,#1e0605,#51100d,#1e0605,#040101,#040101,#050101,#0d0302,#190504,#0b0202,#070201,#0e0302,#070201,#040101,#0c0302,#1d0605,#0c0302,#040101,#040101,#040101,#230706,#6c1611,#440e0b,#0f0303,#120403,#460e0b,#5a120e,#1c0605,#250806,#661510,#250806,#040101,#040101)"></div>
<div class="bd" style="left:0.0px;top:0.0px">A</div>
<div class="bd" style="left:1065.5px;top:0.0px">B</div>
<div class="bd" style="left:0.0px;top:870.5px">C</div>
<div class="bd" style="left:1053.7px;top:870.5px">D</div>
</body></html>
